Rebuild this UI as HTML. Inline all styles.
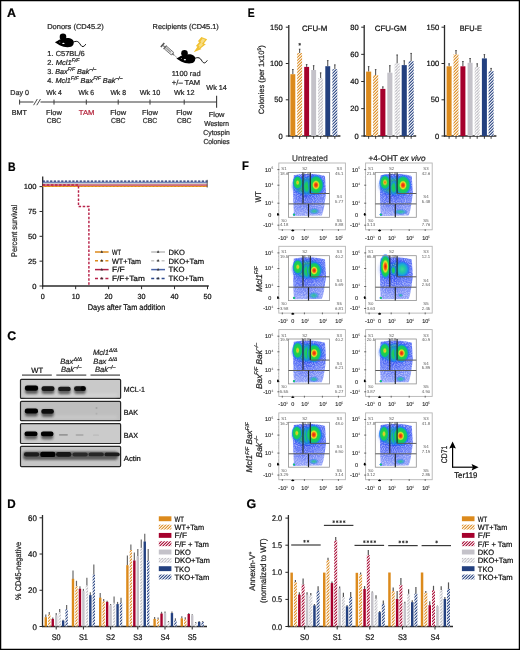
<!DOCTYPE html>
<html><head><meta charset="utf-8"><title>Figure</title>
<style>
html,body{margin:0;padding:0;background:#fff;}
body{width:520px;height:650px;overflow:hidden;}
text{stroke:#222;stroke-width:0.22px;}
text.ns{stroke:none !important;}
svg{display:block;font-family:"Liberation Sans",sans-serif;will-change:transform;text-rendering:geometricPrecision;}
</style></head>
<body>
<svg width="520" height="650" viewBox="0 0 520 650">

<defs>

 <radialGradient id="gy"><stop offset="0" stop-color="#f0a81e"/><stop offset="0.16" stop-color="#d2dc28"/><stop offset="0.36" stop-color="#1ed246"/><stop offset="0.7" stop-color="#14c46e"/><stop offset="0.84" stop-color="#1288ee" stop-opacity="0.8"/><stop offset="1" stop-color="#2040ff" stop-opacity="0"/></radialGradient>
 <radialGradient id="go"><stop offset="0" stop-color="#f04a14"/><stop offset="0.2" stop-color="#e6cc28"/><stop offset="0.42" stop-color="#1ed246"/><stop offset="0.66" stop-color="#14c46e"/><stop offset="0.84" stop-color="#1288ee" stop-opacity="0.8"/><stop offset="1" stop-color="#2040ff" stop-opacity="0"/></radialGradient>
 <radialGradient id="gr"><stop offset="0" stop-color="#ee1a0a"/><stop offset="0.18" stop-color="#f45a12"/><stop offset="0.32" stop-color="#e8e026"/><stop offset="0.46" stop-color="#1ed246"/><stop offset="0.72" stop-color="#14c46e"/><stop offset="0.86" stop-color="#1288ee" stop-opacity="0.8"/><stop offset="1" stop-color="#2040ff" stop-opacity="0"/></radialGradient>
 <radialGradient id="gR"><stop offset="0" stop-color="#e6140a"/><stop offset="0.22" stop-color="#f46412"/><stop offset="0.38" stop-color="#e8e026"/><stop offset="0.55" stop-color="#1ed246"/><stop offset="0.72" stop-color="#14c46e"/><stop offset="0.86" stop-color="#1288ee" stop-opacity="0.8"/><stop offset="1" stop-color="#2040ff" stop-opacity="0"/></radialGradient>
 <radialGradient id="gc"><stop offset="0" stop-color="#3cd69a"/><stop offset="0.35" stop-color="#22c8a0"/><stop offset="0.65" stop-color="#1aa8d8"/><stop offset="0.85" stop-color="#1878f0" stop-opacity="0.7"/><stop offset="1" stop-color="#2040ff" stop-opacity="0"/></radialGradient>
 <radialGradient id="gG"><stop offset="0" stop-color="#20d04a"/><stop offset="0.45" stop-color="#1cc474"/><stop offset="0.75" stop-color="#1490e8" stop-opacity="0.75"/><stop offset="1" stop-color="#2040ff" stop-opacity="0"/></radialGradient>
 <linearGradient id="wfade" x1="0" y1="0" x2="0" y2="1"><stop offset="0" stop-color="#fff" stop-opacity="0"/><stop offset="0.5" stop-color="#fff" stop-opacity="0.22"/><stop offset="1" stop-color="#fff" stop-opacity="0.35"/></linearGradient>
 <radialGradient id="gB"><stop offset="0" stop-color="#22cc4c" stop-opacity="0.95"/><stop offset="0.55" stop-color="#1ec464" stop-opacity="0.85"/><stop offset="0.8" stop-color="#16a0d0" stop-opacity="0.55"/><stop offset="1" stop-color="#2040ff" stop-opacity="0"/></radialGradient>
 <radialGradient id="gS"><stop offset="0" stop-color="#30c878" stop-opacity="0.9"/><stop offset="0.5" stop-color="#20a8c8" stop-opacity="0.7"/><stop offset="1" stop-color="#2040ff" stop-opacity="0"/></radialGradient>
 <pattern id="hOR" patternUnits="userSpaceOnUse" width="3" height="3">
  <rect width="3" height="3" fill="#fff"/><path d="M0,3 L3,0 L3,1.500 L1.500,3 Z M0,1.500 L1.500,0 L0,0 Z" fill="#DC8A1C"/></pattern>
 <pattern id="hORf" patternUnits="userSpaceOnUse" width="4" height="2">
  <rect width="4" height="2" fill="#fff"/><path d="M0,-2 L4,-4 L4,-3.00 L0,-1.00 Z M0,0 L4,-2 L4,-1.00 L0,1.00 Z M0,2 L4,0 L4,1.00 L0,3.00 Z M0,4 L4,2 L4,3.00 L0,5.00 Z" fill="#DC8A1C"/></pattern>
 <pattern id="hRD" patternUnits="userSpaceOnUse" width="3" height="3">
  <rect width="3" height="3" fill="#fff"/><path d="M0,3 L3,0 L3,1.500 L1.500,3 Z M0,1.500 L1.500,0 L0,0 Z" fill="#A5002C"/></pattern>
 <pattern id="hRDf" patternUnits="userSpaceOnUse" width="4" height="2">
  <rect width="4" height="2" fill="#fff"/><path d="M0,-2 L4,-4 L4,-3.00 L0,-1.00 Z M0,0 L4,-2 L4,-1.00 L0,1.00 Z M0,2 L4,0 L4,1.00 L0,3.00 Z M0,4 L4,2 L4,3.00 L0,5.00 Z" fill="#A5002C"/></pattern>
 <pattern id="hGY" patternUnits="userSpaceOnUse" width="3" height="3">
  <rect width="3" height="3" fill="#fff"/><path d="M0,3 L3,0 L3,1.350 L1.350,3 Z M0,1.650 L1.650,0 L0,0 Z" fill="#BDBCC2"/></pattern>
 <pattern id="hGYf" patternUnits="userSpaceOnUse" width="4" height="2">
  <rect width="4" height="2" fill="#fff"/><path d="M0,-2 L4,-4 L4,-3.10 L0,-1.10 Z M0,0 L4,-2 L4,-1.10 L0,0.90 Z M0,2 L4,0 L4,0.90 L0,2.90 Z M0,4 L4,2 L4,2.90 L0,4.90 Z" fill="#BDBCC2"/></pattern>
 <pattern id="hBL" patternUnits="userSpaceOnUse" width="3" height="3">
  <rect width="3" height="3" fill="#fff"/><path d="M0,3 L3,0 L3,1.500 L1.500,3 Z M0,1.500 L1.500,0 L0,0 Z" fill="#23407F"/></pattern>
 <pattern id="hBLf" patternUnits="userSpaceOnUse" width="4" height="2">
  <rect width="4" height="2" fill="#fff"/><path d="M0,-2 L4,-4 L4,-3.00 L0,-1.00 Z M0,0 L4,-2 L4,-1.00 L0,1.00 Z M0,2 L4,0 L4,1.00 L0,3.00 Z M0,4 L4,2 L4,3.00 L0,5.00 Z" fill="#23407F"/></pattern>
 <filter id="blur1" x="-50%" y="-50%" width="200%" height="200%"><feGaussianBlur stdDeviation="1"/></filter>
 <filter id="blur07" x="-50%" y="-50%" width="200%" height="200%"><feGaussianBlur stdDeviation="0.7"/></filter>
 <filter id="blur15" x="-50%" y="-50%" width="200%" height="200%"><feGaussianBlur stdDeviation="1.5"/></filter>
 <filter id="blur2" x="-50%" y="-50%" width="200%" height="200%"><feGaussianBlur stdDeviation="2"/></filter>
 <filter id="blur3" x="-50%" y="-50%" width="200%" height="200%"><feGaussianBlur stdDeviation="3"/></filter>
 <filter id="speck" x="0" y="0" width="100%" height="100%">
   <feTurbulence type="fractalNoise" baseFrequency="0.9" numOctaves="1" seed="3" result="n"/>
   <feColorMatrix in="n" type="matrix" values="0 0 0 0 1  0 0 0 0 1  0 0 0 0 1  0 0 0 -2.2 1.35" result="m"/>
   <feComposite in="m" in2="SourceGraphic" operator="in"/>
 </filter>
</defs>

<rect x="0" y="0" width="520" height="650" fill="#fff"/>
<text x="7.0" y="16.9" font-size="12.4" fill="#000" style="stroke:#000" font-weight="bold">A</text>
<text x="7.9" y="170.9" font-size="12.4" fill="#000" style="stroke:#000" textLength="7.6" lengthAdjust="spacingAndGlyphs" font-weight="bold">B</text>
<text x="7.3" y="340.1" font-size="12.4" fill="#000" style="stroke:#000" font-weight="bold">C</text>
<text x="7.3" y="507.6" font-size="12.4" fill="#000" style="stroke:#000" textLength="8.4" lengthAdjust="spacingAndGlyphs" font-weight="bold">D</text>
<text x="247.7" y="16.9" font-size="12.4" fill="#000" style="stroke:#000" textLength="6.9" lengthAdjust="spacingAndGlyphs" font-weight="bold">E</text>
<text x="242.0" y="169.7" font-size="12.4" fill="#000" style="stroke:#000" textLength="6.8" lengthAdjust="spacingAndGlyphs" font-weight="bold">F</text>
<text x="246.4" y="507.6" font-size="12.4" fill="#000" style="stroke:#000" font-weight="bold">G</text>
<text x="47.2" y="28.9" font-size="7.2" fill="#262626" style="stroke:#262626" textLength="56.6" lengthAdjust="spacingAndGlyphs">Donors (CD45.2)</text>
<text x="152.6" y="28.9" font-size="7.2" fill="#262626" style="stroke:#262626" textLength="66.2" lengthAdjust="spacingAndGlyphs">Recipients (CD45.1)</text>
<g><path d="M54.9,42.3 C56.8,41.2 58.6,39.9 60.6,39.2 C61.2,38.9 62,38.7 62.8,38.6 C66.5,37.6 71.2,37.7 73.1,40.2 C74.3,42 74,45.6 71,46.7 C67.8,47.7 63.2,47.1 59.6,45.2 Z" fill="#000"/><circle cx="63" cy="36.9" r="3.3" fill="#000"/><path d="M73.2,42.1 C75.6,41.1 77.4,41 78.8,42.4 C80.4,44.1 81.3,46.9 83,46.6 C84.3,46.3 85,45.2 85.8,44.1" fill="none" stroke="#000" stroke-width="0.95"/><ellipse cx="63.4" cy="43.4" rx="1.15" ry="0.65" fill="#fff"/><ellipse cx="59.8" cy="42.1" rx="0.5" ry="0.4" fill="#fff"/></g>
<g transform="translate(176.4,58.6) scale(1.0) translate(-54.9,-42.3)"><path d="M54.9,42.3 C56.8,41.2 58.6,39.9 60.6,39.2 C61.2,38.9 62,38.7 62.8,38.6 C66.5,37.6 71.2,37.7 73.1,40.2 C74.3,42 74,45.6 71,46.7 C67.8,47.7 63.2,47.1 59.6,45.2 Z" fill="#000"/><circle cx="63" cy="36.9" r="3.3" fill="#000"/><path d="M73.2,42.1 C75.6,41.1 77.4,41 78.8,42.4 C80.4,44.1 81.3,46.9 83,46.6 C84.3,46.3 85,45.2 85.8,44.1" fill="none" stroke="#000" stroke-width="0.95"/><ellipse cx="63.4" cy="43.4" rx="1.15" ry="0.65" fill="#fff"/><ellipse cx="59.8" cy="42.1" rx="0.5" ry="0.4" fill="#fff"/></g>
<g transform="translate(162.4,44.9) rotate(41)"><rect x="-0.6" y="-2.6" width="1.6" height="5.2" fill="#555"/><rect x="1" y="-0.6" width="2.2" height="1.2" fill="#777"/><rect x="3.0" y="-2.3" width="1.2" height="4.6" fill="#555"/><rect x="4.2" y="-1.75" width="9.2" height="3.5" fill="#e6e6e6" stroke="#666" stroke-width="0.8"/><rect x="5.2" y="-0.7" width="6" height="1.4" fill="#9a9a9a"/><path d="M13.4,-1.2 L15.4,-0.5 L15.4,0.5 L13.4,1.2 Z" fill="#777"/><line x1="15.4" y1="0" x2="19.4" y2="0" stroke="#888" stroke-width="0.6"/></g>
<path d="M201.4,37.1 L207.2,39.3 L203.8,43.5 L205.8,44.3 L200.4,48.6 L201.6,49.1 L193.7,52.2 L197.4,46.7 L195.9,46.1 L199.3,41.9 L197.8,41.3 Z" fill="#F1C232"/>
<path d="M202.6,38.6 L205.2,39.7 L201.8,44 L203.4,44.6 L198.6,48.4 L199.6,46.3 L198.4,45.8 L201.4,42 L200.4,41.6 Z" fill="#F7DD85"/>
<text x="47.3" y="55.6" font-size="7.2" fill="#262626" style="stroke:#262626" textLength="37.5" lengthAdjust="spacingAndGlyphs">1. C57BL/6</text>
<text x="47.3" y="64.6" font-size="7.2" fill="#262626" textLength="32.2" lengthAdjust="spacingAndGlyphs">2. <tspan font-style="italic">Mcl1</tspan><tspan font-size="5.0" dy="-2.9" font-style="italic">F/F</tspan></text>
<text x="47.3" y="73.6" font-size="7.2" fill="#262626" textLength="49" lengthAdjust="spacingAndGlyphs">3. <tspan font-style="italic">Bax</tspan><tspan font-size="5.0" dy="-2.9" font-style="italic">F/F</tspan><tspan dy="2.9" font-style="italic"> Bak</tspan><tspan font-size="5.0" dy="-2.9" font-style="italic">–/–</tspan></text>
<text x="47.3" y="82.6" font-size="7.2" fill="#262626" textLength="75.2" lengthAdjust="spacingAndGlyphs">4. <tspan font-style="italic">Mcl1</tspan><tspan font-size="5.0" dy="-2.9" font-style="italic">F/F</tspan><tspan dy="2.9" font-style="italic"> Bax</tspan><tspan font-size="5.0" dy="-2.9" font-style="italic">F/F</tspan><tspan dy="2.9" font-style="italic"> Bak</tspan><tspan font-size="5.0" dy="-2.9" font-style="italic">–/–</tspan></text>
<text x="186.2" y="76.3" font-size="7.2" text-anchor="middle" fill="#262626" style="stroke:#262626" textLength="29" lengthAdjust="spacingAndGlyphs">1100 rad</text>
<text x="186.0" y="85.2" font-size="7.2" text-anchor="middle" fill="#262626" style="stroke:#262626" textLength="28.4" lengthAdjust="spacingAndGlyphs">+/– TAM</text>
<line x1="19.50" y1="102.00" x2="216.60" y2="102.00" stroke="#3a3a3a" stroke-width="1.2" />
<rect x="33.5" y="99" width="7" height="6" fill="#fff"/>
<line x1="33.60" y1="105.20" x2="37.30" y2="99.00" stroke="#3a3a3a" stroke-width="0.9" />
<line x1="36.80" y1="105.20" x2="40.50" y2="99.00" stroke="#3a3a3a" stroke-width="0.9" />
<line x1="19.60" y1="99.60" x2="19.60" y2="104.60" stroke="#3a3a3a" stroke-width="1.0" />
<line x1="54.00" y1="99.60" x2="54.00" y2="104.60" stroke="#3a3a3a" stroke-width="1.0" />
<line x1="86.30" y1="99.60" x2="86.30" y2="104.60" stroke="#3a3a3a" stroke-width="1.0" />
<line x1="118.20" y1="99.60" x2="118.20" y2="104.60" stroke="#3a3a3a" stroke-width="1.0" />
<line x1="150.00" y1="99.60" x2="150.00" y2="104.60" stroke="#3a3a3a" stroke-width="1.0" />
<line x1="184.20" y1="99.60" x2="184.20" y2="104.60" stroke="#3a3a3a" stroke-width="1.0" />
<line x1="216.60" y1="95.80" x2="216.60" y2="107.80" stroke="#3a3a3a" stroke-width="1.1" />
<text x="19.6" y="94.8" font-size="7.2" text-anchor="middle" fill="#262626" style="stroke:#262626" textLength="18.7" lengthAdjust="spacingAndGlyphs">Day 0</text>
<text x="54.0" y="94.8" font-size="7.2" text-anchor="middle" fill="#262626" style="stroke:#262626" textLength="15.6" lengthAdjust="spacingAndGlyphs">Wk 4</text>
<text x="86.3" y="94.8" font-size="7.2" text-anchor="middle" fill="#262626" style="stroke:#262626" textLength="15.6" lengthAdjust="spacingAndGlyphs">Wk 6</text>
<text x="118.2" y="94.8" font-size="7.2" text-anchor="middle" fill="#262626" style="stroke:#262626" textLength="15.6" lengthAdjust="spacingAndGlyphs">Wk 8</text>
<text x="150.0" y="94.8" font-size="7.2" text-anchor="middle" fill="#262626" style="stroke:#262626" textLength="20.6" lengthAdjust="spacingAndGlyphs">Wk 10</text>
<text x="184.2" y="94.8" font-size="7.2" text-anchor="middle" fill="#262626" style="stroke:#262626" textLength="20.6" lengthAdjust="spacingAndGlyphs">Wk 12</text>
<text x="216.6" y="90.4" font-size="7.2" text-anchor="middle" fill="#262626" style="stroke:#262626" textLength="20.6" lengthAdjust="spacingAndGlyphs">Wk 14</text>
<text x="19.4" y="114.7" font-size="7.2" text-anchor="middle" fill="#262626" style="stroke:#262626" textLength="15.2" lengthAdjust="spacingAndGlyphs">BMT</text>
<text x="54.0" y="114.7" font-size="7.2" text-anchor="middle" fill="#262626" style="stroke:#262626" textLength="15.8" lengthAdjust="spacingAndGlyphs">Flow</text>
<text x="54.0" y="123.4" font-size="7.2" text-anchor="middle" fill="#262626" style="stroke:#262626" textLength="14.5" lengthAdjust="spacingAndGlyphs">CBC</text>
<text x="86.6" y="114.7" font-size="7.2" text-anchor="middle" fill="#B5283F" style="stroke:#B5283F" textLength="15.6" lengthAdjust="spacingAndGlyphs">TAM</text>
<text x="118.2" y="114.7" font-size="7.2" text-anchor="middle" fill="#262626" style="stroke:#262626" textLength="15.8" lengthAdjust="spacingAndGlyphs">Flow</text>
<text x="118.2" y="123.4" font-size="7.2" text-anchor="middle" fill="#262626" style="stroke:#262626" textLength="14.5" lengthAdjust="spacingAndGlyphs">CBC</text>
<text x="150.0" y="114.7" font-size="7.2" text-anchor="middle" fill="#262626" style="stroke:#262626" textLength="15.8" lengthAdjust="spacingAndGlyphs">Flow</text>
<text x="150.0" y="123.4" font-size="7.2" text-anchor="middle" fill="#262626" style="stroke:#262626" textLength="14.5" lengthAdjust="spacingAndGlyphs">CBC</text>
<text x="184.2" y="114.7" font-size="7.2" text-anchor="middle" fill="#262626" style="stroke:#262626" textLength="15.8" lengthAdjust="spacingAndGlyphs">Flow</text>
<text x="184.2" y="123.4" font-size="7.2" text-anchor="middle" fill="#262626" style="stroke:#262626" textLength="14.5" lengthAdjust="spacingAndGlyphs">CBC</text>
<text x="216.6" y="117.2" font-size="7.2" text-anchor="middle" fill="#262626" style="stroke:#262626" textLength="15.8" lengthAdjust="spacingAndGlyphs">Flow</text>
<text x="216.6" y="126.0" font-size="7.2" text-anchor="middle" fill="#262626" style="stroke:#262626" textLength="24.8" lengthAdjust="spacingAndGlyphs">Western</text>
<text x="216.6" y="134.7" font-size="7.2" text-anchor="middle" fill="#262626" style="stroke:#262626" textLength="26.5" lengthAdjust="spacingAndGlyphs">Cytospin</text>
<text x="216.6" y="143.5" font-size="7.2" text-anchor="middle" fill="#262626" style="stroke:#262626" textLength="26.3" lengthAdjust="spacingAndGlyphs">Colonies</text>
<line x1="42.70" y1="176.40" x2="42.70" y2="286.60" stroke="#2a2a2a" stroke-width="1.3" />
<line x1="42.10" y1="286.00" x2="208.80" y2="286.00" stroke="#2a2a2a" stroke-width="1.3" />
<line x1="39.50" y1="286.00" x2="42.70" y2="286.00" stroke="#2a2a2a" stroke-width="1.0" />
<text x="36.6" y="288.6" font-size="7.4" text-anchor="end" textLength="4.25" lengthAdjust="spacingAndGlyphs">0</text>
<line x1="39.50" y1="261.16" x2="42.70" y2="261.16" stroke="#2a2a2a" stroke-width="1.0" />
<text x="36.6" y="263.76000000000005" font-size="7.4" text-anchor="end" textLength="8.5" lengthAdjust="spacingAndGlyphs">25</text>
<line x1="39.50" y1="236.32" x2="42.70" y2="236.32" stroke="#2a2a2a" stroke-width="1.0" />
<text x="36.6" y="238.92" font-size="7.4" text-anchor="end" textLength="8.5" lengthAdjust="spacingAndGlyphs">50</text>
<line x1="39.50" y1="211.48" x2="42.70" y2="211.48" stroke="#2a2a2a" stroke-width="1.0" />
<text x="36.6" y="214.08" font-size="7.4" text-anchor="end" textLength="8.5" lengthAdjust="spacingAndGlyphs">75</text>
<line x1="39.50" y1="186.64" x2="42.70" y2="186.64" stroke="#2a2a2a" stroke-width="1.0" />
<text x="36.6" y="189.23999999999998" font-size="7.4" text-anchor="end" textLength="12.75" lengthAdjust="spacingAndGlyphs">100</text>
<line x1="42.70" y1="286.00" x2="42.70" y2="289.20" stroke="#2a2a2a" stroke-width="1.0" />
<text x="42.7" y="298.8" font-size="7.4" text-anchor="middle" textLength="4.0" lengthAdjust="spacingAndGlyphs">0</text>
<line x1="75.66" y1="286.00" x2="75.66" y2="289.20" stroke="#2a2a2a" stroke-width="1.0" />
<text x="75.66" y="298.8" font-size="7.4" text-anchor="middle" textLength="8.0" lengthAdjust="spacingAndGlyphs">10</text>
<line x1="108.62" y1="286.00" x2="108.62" y2="289.20" stroke="#2a2a2a" stroke-width="1.0" />
<text x="108.62" y="298.8" font-size="7.4" text-anchor="middle" textLength="8.0" lengthAdjust="spacingAndGlyphs">20</text>
<line x1="141.58" y1="286.00" x2="141.58" y2="289.20" stroke="#2a2a2a" stroke-width="1.0" />
<text x="141.57999999999998" y="298.8" font-size="7.4" text-anchor="middle" textLength="8.0" lengthAdjust="spacingAndGlyphs">30</text>
<line x1="174.54" y1="286.00" x2="174.54" y2="289.20" stroke="#2a2a2a" stroke-width="1.0" />
<text x="174.54000000000002" y="298.8" font-size="7.4" text-anchor="middle" textLength="8.0" lengthAdjust="spacingAndGlyphs">40</text>
<line x1="207.50" y1="286.00" x2="207.50" y2="289.20" stroke="#2a2a2a" stroke-width="1.0" />
<text x="207.5" y="298.8" font-size="7.4" text-anchor="middle" textLength="8.0" lengthAdjust="spacingAndGlyphs">50</text>
<text x="126.5" y="310.1" font-size="8.2" text-anchor="middle" textLength="77.5" lengthAdjust="spacingAndGlyphs">Days after Tam addition</text>
<text transform="translate(17.2,230.9) rotate(-90)" x="0" y="0" font-size="8.2" text-anchor="middle" fill="#222" textLength="52" lengthAdjust="spacingAndGlyphs">Percent survival</text>
<line x1="42.70" y1="186.40" x2="207.50" y2="186.40" stroke="#DC8A1C" stroke-width="1.2" />
<line x1="42.70" y1="186.40" x2="207.50" y2="186.40" stroke="#F0A030" stroke-width="1.0" stroke-dasharray="2,1.6"/>
<line x1="42.70" y1="185.00" x2="207.50" y2="185.00" stroke="#A5002C" stroke-width="1.2" />
<line x1="42.70" y1="183.30" x2="207.50" y2="183.30" stroke="#BDBDBD" stroke-width="1.1" />
<line x1="42.70" y1="182.30" x2="207.50" y2="182.30" stroke="#4A64A8" stroke-width="1.1" />
<line x1="42.70" y1="181.20" x2="207.50" y2="181.20" stroke="#1C2F6E" stroke-width="1.3" stroke-dasharray="2.2,1.5"/>
<path d="M42.7,185.0 L78.5,185.0 L78.5,206.5 L88.9,206.5 L88.9,286.0" fill="none" stroke="#B8234A" stroke-width="1.45" stroke-dasharray="2.5,1.6"/>
<line x1="207.20" y1="179.80" x2="207.20" y2="187.60" stroke="#444" stroke-width="0.8" />
<line x1="95.00" y1="252.00" x2="108.60" y2="252.00" stroke="#DC8A1C" stroke-width="1.5" />
<path d="M100.50,252.80 L103.10,252.80 L101.80,250.30 Z" fill="#333"/>
<text x="112.0" y="254.7" font-size="7.6" textLength="9.0" lengthAdjust="spacingAndGlyphs">WT</text>
<line x1="95.00" y1="260.80" x2="108.60" y2="260.80" stroke="#DC8A1C" stroke-width="1.5" stroke-dasharray="3.0,2.2"/>
<path d="M100.50,261.60 L103.10,261.60 L101.80,259.10 Z" fill="#333"/>
<text x="112.0" y="263.5" font-size="7.6" textLength="29.0" lengthAdjust="spacingAndGlyphs">WT+Tam</text>
<line x1="95.00" y1="269.60" x2="108.60" y2="269.60" stroke="#B01E44" stroke-width="1.5" />
<path d="M100.50,270.40 L103.10,270.40 L101.80,267.90 Z" fill="#333"/>
<text x="112.0" y="272.3" font-size="7.6" textLength="12.8" lengthAdjust="spacingAndGlyphs">F/F</text>
<line x1="95.00" y1="278.40" x2="108.60" y2="278.40" stroke="#B8234A" stroke-width="1.5" stroke-dasharray="3.0,2.2"/>
<path d="M100.50,279.20 L103.10,279.20 L101.80,276.70 Z" fill="#333"/>
<text x="112.0" y="281.09999999999997" font-size="7.6" textLength="32.8" lengthAdjust="spacingAndGlyphs">F/F+Tam</text>
<line x1="151.20" y1="252.00" x2="165.00" y2="252.00" stroke="#BDBDBD" stroke-width="1.5" />
<path d="M156.80,252.80 L159.40,252.80 L158.10,250.30 Z" fill="#333"/>
<text x="168.6" y="254.7" font-size="7.6" textLength="16.4" lengthAdjust="spacingAndGlyphs">DKO</text>
<line x1="151.20" y1="260.80" x2="165.00" y2="260.80" stroke="#C6C6C6" stroke-width="1.5" stroke-dasharray="3.0,2.2"/>
<path d="M156.80,261.60 L159.40,261.60 L158.10,259.10 Z" fill="#333"/>
<text x="168.6" y="263.5" font-size="7.6" textLength="35.4" lengthAdjust="spacingAndGlyphs">DKO+Tam</text>
<line x1="151.20" y1="269.60" x2="165.00" y2="269.60" stroke="#4A64A8" stroke-width="1.5" />
<path d="M156.80,270.40 L159.40,270.40 L158.10,267.90 Z" fill="#333"/>
<text x="168.6" y="272.3" font-size="7.6" textLength="16.0" lengthAdjust="spacingAndGlyphs">TKO</text>
<line x1="151.20" y1="278.40" x2="165.00" y2="278.40" stroke="#2E4A8C" stroke-width="1.5" stroke-dasharray="3.0,2.2"/>
<path d="M156.80,279.20 L159.40,279.20 L158.10,276.70 Z" fill="#333"/>
<text x="168.6" y="281.09999999999997" font-size="7.6" textLength="35.0" lengthAdjust="spacingAndGlyphs">TKO+Tam</text>
<text x="37.2" y="372.6" font-size="7.6" text-anchor="middle" textLength="11.8" lengthAdjust="spacingAndGlyphs">WT</text>
<text x="71.2" y="364.0" font-size="7.6" text-anchor="middle" fill="#222" font-style="italic">Bax<tspan font-size="5.4" dy="-3.0">Δ/Δ</tspan></text>
<text x="71.2" y="372.4" font-size="7.6" text-anchor="middle" fill="#222" font-style="italic">Bak<tspan font-size="5.4" dy="-3.0">–/–</tspan></text>
<text x="105.3" y="355.0" font-size="7.6" text-anchor="middle" fill="#222" font-style="italic">Mcl1<tspan font-size="5.4" dy="-3.0">Δ/Δ</tspan></text>
<text x="105.3" y="364.0" font-size="7.6" text-anchor="middle" fill="#222" font-style="italic">Bax <tspan font-size="5.4" dy="-3.0">Δ/Δ</tspan></text>
<text x="105.3" y="372.4" font-size="7.6" text-anchor="middle" fill="#222" font-style="italic">Bak<tspan font-size="5.4" dy="-3.0">–/–</tspan></text>
<line x1="22.00" y1="375.10" x2="51.80" y2="375.10" stroke="#555" stroke-width="1.3" />
<line x1="56.30" y1="375.10" x2="86.30" y2="375.10" stroke="#555" stroke-width="1.3" />
<line x1="90.50" y1="375.10" x2="120.00" y2="375.10" stroke="#555" stroke-width="1.3" />
<rect x="20.5" y="379.3" width="100.1" height="19.099999999999966" rx="1" fill="#C9C9C9" stroke="#262626" stroke-width="1.2"/>
<text x="123.8" y="391.8" font-size="7.4" textLength="21.2" lengthAdjust="spacingAndGlyphs">MCL-1</text>
<rect x="20.5" y="401.4" width="100.1" height="19.30000000000001" rx="1" fill="#BEBEBE" stroke="#262626" stroke-width="1.2"/>
<text x="123.8" y="414.6" font-size="7.4" textLength="14.3" lengthAdjust="spacingAndGlyphs">BAK</text>
<rect x="20.5" y="423.6" width="100.1" height="19.899999999999977" rx="1" fill="#CBCBCB" stroke="#262626" stroke-width="1.2"/>
<text x="123.8" y="437.5" font-size="7.4" textLength="14.3" lengthAdjust="spacingAndGlyphs">BAX</text>
<rect x="20.5" y="446.3" width="100.1" height="20.30000000000001" rx="1" fill="#C6C6C6" stroke="#262626" stroke-width="1.2"/>
<text x="123.8" y="461.0" font-size="7.4" textLength="17.1" lengthAdjust="spacingAndGlyphs">Actin</text>
<g filter="url(#blur15)">
<rect x="24" y="394" width="93" height="2.5" fill="#d6d6d6"/>
<rect x="24" y="416" width="93" height="2.5" fill="#cbcbcb"/>
</g>
<rect x="25.10" y="386.20" width="12.80" height="7.80" rx="2.6" fill="#333" fill-opacity="0.70" filter="url(#blur1)"/>
<rect x="24.90" y="385.60" width="13.20" height="5.20" rx="2.20" fill="#050505" fill-opacity="1.0" filter="url(#blur07)"/>
<rect x="41.70" y="386.90" width="12.60" height="7.20" rx="2.6" fill="#333" fill-opacity="0.70" filter="url(#blur1)"/>
<rect x="41.50" y="386.30" width="13.00" height="4.60" rx="2.20" fill="#141414" fill-opacity="1.0" filter="url(#blur07)"/>
<rect x="58.30" y="387.30" width="12.20" height="7.00" rx="2.6" fill="#333" fill-opacity="0.70" filter="url(#blur1)"/>
<rect x="58.10" y="386.70" width="12.60" height="4.40" rx="2.20" fill="#1a1a1a" fill-opacity="1.0" filter="url(#blur07)"/>
<rect x="74.30" y="386.90" width="11.40" height="7.20" rx="2.6" fill="#333" fill-opacity="0.70" filter="url(#blur1)"/>
<rect x="74.10" y="386.30" width="11.80" height="4.60" rx="2.20" fill="#141414" fill-opacity="1.0" filter="url(#blur07)"/>
<rect x="80.50" y="386.30" width="5.00" height="4.40" rx="2.20" fill="#000" fill-opacity="1.0" filter="url(#blur07)"/>
<rect x="25.00" y="409.20" width="12.80" height="7.40" rx="2.6" fill="#333" fill-opacity="0.70" filter="url(#blur1)"/>
<rect x="24.80" y="408.60" width="13.20" height="4.80" rx="2.20" fill="#050505" fill-opacity="1.0" filter="url(#blur07)"/>
<rect x="41.50" y="409.70" width="12.20" height="7.20" rx="2.6" fill="#333" fill-opacity="0.70" filter="url(#blur1)"/>
<rect x="41.30" y="409.10" width="12.60" height="4.60" rx="2.20" fill="#0e0e0e" fill-opacity="1.0" filter="url(#blur07)"/>
<rect x="95.50" y="407.00" width="2.00" height="2.00" rx="1.00" fill="#888" fill-opacity="0.5" filter="url(#blur07)"/>
<rect x="95.50" y="412.80" width="2.00" height="2.00" rx="1.00" fill="#999" fill-opacity="0.4" filter="url(#blur07)"/>
<rect x="24.70" y="432.10" width="12.60" height="7.20" rx="2.6" fill="#333" fill-opacity="0.70" filter="url(#blur1)"/>
<rect x="24.50" y="431.50" width="13.00" height="4.60" rx="2.20" fill="#040404" fill-opacity="1.0" filter="url(#blur07)"/>
<rect x="41.10" y="432.20" width="12.20" height="7.20" rx="2.6" fill="#333" fill-opacity="0.70" filter="url(#blur1)"/>
<rect x="40.90" y="431.60" width="12.60" height="4.60" rx="2.20" fill="#060606" fill-opacity="1.0" filter="url(#blur07)"/>
<rect x="58.90" y="434.10" width="9.00" height="1.60" rx="0.80" fill="#808080" fill-opacity="0.7" filter="url(#blur07)"/>
<rect x="75.60" y="434.30" width="8.00" height="1.40" rx="0.70" fill="#8c8c8c" fill-opacity="0.6" filter="url(#blur07)"/>
<rect x="93.00" y="434.60" width="6.00" height="1.20" rx="0.60" fill="#aaa" fill-opacity="0.5" filter="url(#blur07)"/>
<rect x="23" y="451.6" width="95" height="8.4" rx="3" fill="#3a3a3a" fill-opacity="0.75" filter="url(#blur1)"/>
<rect x="24.00" y="452.30" width="15.20" height="4.20" rx="2.10" fill="#1a1a1a" fill-opacity="1.0" filter="url(#blur07)"/>
<rect x="40.20" y="451.70" width="15.20" height="5.40" rx="2.20" fill="#030303" fill-opacity="1.0" filter="url(#blur07)"/>
<rect x="56.10" y="452.10" width="15.20" height="4.60" rx="2.20" fill="#141414" fill-opacity="1.0" filter="url(#blur07)"/>
<rect x="72.50" y="452.40" width="15.20" height="4.00" rx="2.00" fill="#2a2a2a" fill-opacity="1.0" filter="url(#blur07)"/>
<rect x="88.60" y="452.50" width="15.20" height="3.80" rx="1.90" fill="#262626" fill-opacity="1.0" filter="url(#blur07)"/>
<rect x="104.60" y="452.50" width="15.20" height="3.80" rx="1.90" fill="#1e1e1e" fill-opacity="1.0" filter="url(#blur07)"/>
<line x1="42.50" y1="515.00" x2="42.50" y2="627.10" stroke="#2a2a2a" stroke-width="1.3" />
<line x1="41.90" y1="626.50" x2="207.00" y2="626.50" stroke="#2a2a2a" stroke-width="1.3" />
<line x1="39.50" y1="626.50" x2="42.50" y2="626.50" stroke="#2a2a2a" stroke-width="1.0" />
<text x="36.9" y="629.5" font-size="8.2" text-anchor="end" textLength="4.4" lengthAdjust="spacingAndGlyphs">0</text>
<line x1="39.50" y1="590.27" x2="42.50" y2="590.27" stroke="#2a2a2a" stroke-width="1.0" />
<text x="36.9" y="593.266" font-size="8.2" text-anchor="end" textLength="8.8" lengthAdjust="spacingAndGlyphs">20</text>
<line x1="39.50" y1="554.03" x2="42.50" y2="554.03" stroke="#2a2a2a" stroke-width="1.0" />
<text x="36.9" y="557.032" font-size="8.2" text-anchor="end" textLength="8.8" lengthAdjust="spacingAndGlyphs">40</text>
<line x1="39.50" y1="517.80" x2="42.50" y2="517.80" stroke="#2a2a2a" stroke-width="1.0" />
<text x="36.9" y="520.798" font-size="8.2" text-anchor="end" textLength="8.8" lengthAdjust="spacingAndGlyphs">60</text>
<text transform="translate(21.4,571) rotate(-90)" font-size="8.2" text-anchor="middle" fill="#222" textLength="58" lengthAdjust="spacingAndGlyphs">% CD45-negative</text>
<line x1="45.80" y1="617.50" x2="45.80" y2="614.60" stroke="#6a6a6a" stroke-width="1.2" />
<rect x="44.60" y="617.20" width="2.40" height="9.30" fill="#DC8A1C" />
<line x1="49.27" y1="614.90" x2="49.27" y2="612.00" stroke="#6a6a6a" stroke-width="1.2" />
<rect x="48.07" y="614.60" width="2.40" height="11.90" fill="url(#hOR)" />
<line x1="52.74" y1="619.20" x2="52.74" y2="617.40" stroke="#6a6a6a" stroke-width="1.2" />
<rect x="51.54" y="618.90" width="2.40" height="7.60" fill="#A5002C" />
<line x1="56.21" y1="615.70" x2="56.21" y2="613.00" stroke="#6a6a6a" stroke-width="1.2" />
<rect x="55.01" y="615.40" width="2.40" height="11.10" fill="#C4C2C9" />
<line x1="59.68" y1="612.60" x2="59.68" y2="609.00" stroke="#6a6a6a" stroke-width="1.2" />
<rect x="58.48" y="612.30" width="2.40" height="14.20" fill="url(#hGY)" />
<line x1="63.15" y1="620.80" x2="63.15" y2="619.70" stroke="#6a6a6a" stroke-width="1.2" />
<rect x="61.95" y="620.50" width="2.40" height="6.00" fill="#23407F" />
<line x1="66.62" y1="609.50" x2="66.62" y2="605.00" stroke="#6a6a6a" stroke-width="1.2" />
<rect x="65.42" y="609.20" width="2.40" height="17.30" fill="url(#hBL)" />
<line x1="56.21" y1="626.50" x2="56.21" y2="629.50" stroke="#2a2a2a" stroke-width="1.0" />
<text x="56.21000000000001" y="640.0" font-size="8.2" text-anchor="middle" textLength="9.0" lengthAdjust="spacingAndGlyphs">S0</text>
<line x1="73.00" y1="579.10" x2="73.00" y2="570.50" stroke="#6a6a6a" stroke-width="1.2" />
<rect x="71.80" y="578.80" width="2.40" height="47.70" fill="#DC8A1C" />
<line x1="76.47" y1="586.50" x2="76.47" y2="580.80" stroke="#6a6a6a" stroke-width="1.2" />
<rect x="75.27" y="586.20" width="2.40" height="40.30" fill="url(#hOR)" />
<line x1="79.94" y1="589.10" x2="79.94" y2="586.20" stroke="#6a6a6a" stroke-width="1.2" />
<rect x="78.74" y="588.80" width="2.40" height="37.70" fill="#A5002C" />
<line x1="83.41" y1="591.10" x2="83.41" y2="588.90" stroke="#6a6a6a" stroke-width="1.2" />
<rect x="82.21" y="590.80" width="2.40" height="35.70" fill="#C4C2C9" />
<line x1="86.88" y1="585.70" x2="86.88" y2="577.70" stroke="#6a6a6a" stroke-width="1.2" />
<rect x="85.68" y="585.40" width="2.40" height="41.10" fill="url(#hGY)" />
<line x1="90.35" y1="595.40" x2="90.35" y2="592.30" stroke="#6a6a6a" stroke-width="1.2" />
<rect x="89.15" y="595.10" width="2.40" height="31.40" fill="#23407F" />
<line x1="93.82" y1="574.90" x2="93.82" y2="564.60" stroke="#6a6a6a" stroke-width="1.2" />
<rect x="92.62" y="574.60" width="2.40" height="51.90" fill="url(#hBL)" />
<line x1="83.41" y1="626.50" x2="83.41" y2="629.50" stroke="#2a2a2a" stroke-width="1.0" />
<text x="83.41" y="640.0" font-size="8.2" text-anchor="middle" textLength="9.0" lengthAdjust="spacingAndGlyphs">S1</text>
<line x1="100.20" y1="598.00" x2="100.20" y2="593.10" stroke="#6a6a6a" stroke-width="1.2" />
<rect x="99.00" y="597.70" width="2.40" height="28.80" fill="#DC8A1C" />
<line x1="103.67" y1="601.70" x2="103.67" y2="599.00" stroke="#6a6a6a" stroke-width="1.2" />
<rect x="102.47" y="601.40" width="2.40" height="25.10" fill="url(#hOR)" />
<line x1="107.14" y1="602.20" x2="107.14" y2="600.70" stroke="#6a6a6a" stroke-width="1.2" />
<rect x="105.94" y="601.90" width="2.40" height="24.60" fill="#A5002C" />
<line x1="110.61" y1="605.60" x2="110.61" y2="604.10" stroke="#6a6a6a" stroke-width="1.2" />
<rect x="109.41" y="605.30" width="2.40" height="21.20" fill="#C4C2C9" />
<line x1="114.08" y1="603.10" x2="114.08" y2="596.50" stroke="#6a6a6a" stroke-width="1.2" />
<rect x="112.88" y="602.80" width="2.40" height="23.70" fill="url(#hGY)" />
<line x1="117.55" y1="604.40" x2="117.55" y2="601.90" stroke="#6a6a6a" stroke-width="1.2" />
<rect x="116.35" y="604.10" width="2.40" height="22.40" fill="#23407F" />
<line x1="121.02" y1="603.10" x2="121.02" y2="597.70" stroke="#6a6a6a" stroke-width="1.2" />
<rect x="119.82" y="602.80" width="2.40" height="23.70" fill="url(#hBL)" />
<line x1="110.61" y1="626.50" x2="110.61" y2="629.50" stroke="#2a2a2a" stroke-width="1.0" />
<text x="110.61" y="640.0" font-size="8.2" text-anchor="middle" textLength="9.0" lengthAdjust="spacingAndGlyphs">S2</text>
<line x1="127.40" y1="565.50" x2="127.40" y2="555.40" stroke="#6a6a6a" stroke-width="1.2" />
<rect x="126.20" y="565.20" width="2.40" height="61.30" fill="#DC8A1C" />
<line x1="130.87" y1="550.30" x2="130.87" y2="544.40" stroke="#6a6a6a" stroke-width="1.2" />
<rect x="129.67" y="550.00" width="2.40" height="76.50" fill="url(#hOR)" />
<line x1="134.34" y1="560.80" x2="134.34" y2="552.50" stroke="#6a6a6a" stroke-width="1.2" />
<rect x="133.14" y="560.50" width="2.40" height="66.00" fill="#A5002C" />
<line x1="137.81" y1="556.50" x2="137.81" y2="549.00" stroke="#6a6a6a" stroke-width="1.2" />
<rect x="136.61" y="556.20" width="2.40" height="70.30" fill="#C4C2C9" />
<line x1="141.28" y1="548.10" x2="141.28" y2="539.60" stroke="#6a6a6a" stroke-width="1.2" />
<rect x="140.08" y="547.80" width="2.40" height="78.70" fill="url(#hGY)" />
<line x1="144.75" y1="541.80" x2="144.75" y2="533.70" stroke="#6a6a6a" stroke-width="1.2" />
<rect x="143.55" y="541.50" width="2.40" height="85.00" fill="#23407F" />
<line x1="148.22" y1="560.80" x2="148.22" y2="549.00" stroke="#6a6a6a" stroke-width="1.2" />
<rect x="147.02" y="560.50" width="2.40" height="66.00" fill="url(#hBL)" />
<line x1="137.81" y1="626.50" x2="137.81" y2="629.50" stroke="#2a2a2a" stroke-width="1.0" />
<text x="137.80999999999997" y="640.0" font-size="8.2" text-anchor="middle" textLength="9.0" lengthAdjust="spacingAndGlyphs">S3</text>
<line x1="154.60" y1="619.20" x2="154.60" y2="616.90" stroke="#6a6a6a" stroke-width="1.2" />
<rect x="153.40" y="618.90" width="2.40" height="7.60" fill="#DC8A1C" />
<line x1="158.07" y1="619.60" x2="158.07" y2="617.60" stroke="#6a6a6a" stroke-width="1.2" />
<rect x="156.87" y="619.30" width="2.40" height="7.20" fill="url(#hOR)" />
<line x1="161.54" y1="613.90" x2="161.54" y2="611.80" stroke="#6a6a6a" stroke-width="1.2" />
<rect x="160.34" y="613.60" width="2.40" height="12.90" fill="#A5002C" />
<line x1="165.01" y1="613.40" x2="165.01" y2="611.50" stroke="#6a6a6a" stroke-width="1.2" />
<rect x="163.81" y="613.10" width="2.40" height="13.40" fill="#C4C2C9" />
<line x1="168.48" y1="622.60" x2="168.48" y2="621.00" stroke="#6a6a6a" stroke-width="1.2" />
<rect x="167.28" y="622.30" width="2.40" height="4.20" fill="url(#hGY)" />
<line x1="171.95" y1="613.40" x2="171.95" y2="611.50" stroke="#6a6a6a" stroke-width="1.2" />
<rect x="170.75" y="613.10" width="2.40" height="13.40" fill="#23407F" />
<line x1="175.42" y1="620.60" x2="175.42" y2="618.30" stroke="#6a6a6a" stroke-width="1.2" />
<rect x="174.22" y="620.30" width="2.40" height="6.20" fill="url(#hBL)" />
<line x1="165.01" y1="626.50" x2="165.01" y2="629.50" stroke="#2a2a2a" stroke-width="1.0" />
<text x="165.01" y="640.0" font-size="8.2" text-anchor="middle" textLength="9.0" lengthAdjust="spacingAndGlyphs">S4</text>
<line x1="181.80" y1="618.60" x2="181.80" y2="616.30" stroke="#6a6a6a" stroke-width="1.2" />
<rect x="180.60" y="618.30" width="2.40" height="8.20" fill="#DC8A1C" />
<line x1="185.27" y1="619.60" x2="185.27" y2="617.30" stroke="#6a6a6a" stroke-width="1.2" />
<rect x="184.07" y="619.30" width="2.40" height="7.20" fill="url(#hOR)" />
<line x1="188.74" y1="614.30" x2="188.74" y2="612.90" stroke="#6a6a6a" stroke-width="1.2" />
<rect x="187.54" y="614.00" width="2.40" height="12.50" fill="#A5002C" />
<line x1="192.21" y1="615.60" x2="192.21" y2="614.20" stroke="#6a6a6a" stroke-width="1.2" />
<rect x="191.01" y="615.30" width="2.40" height="11.20" fill="#C4C2C9" />
<line x1="195.68" y1="623.30" x2="195.68" y2="622.00" stroke="#6a6a6a" stroke-width="1.2" />
<rect x="194.48" y="623.00" width="2.40" height="3.50" fill="url(#hGY)" />
<line x1="199.15" y1="622.20" x2="199.15" y2="621.00" stroke="#6a6a6a" stroke-width="1.2" />
<rect x="197.95" y="621.90" width="2.40" height="4.60" fill="#23407F" />
<line x1="202.62" y1="622.20" x2="202.62" y2="621.00" stroke="#6a6a6a" stroke-width="1.2" />
<rect x="201.42" y="621.90" width="2.40" height="4.60" fill="url(#hBL)" />
<line x1="192.21" y1="626.50" x2="192.21" y2="629.50" stroke="#2a2a2a" stroke-width="1.0" />
<text x="192.20999999999998" y="640.0" font-size="8.2" text-anchor="middle" textLength="9.0" lengthAdjust="spacingAndGlyphs">S5</text>
<rect x="158.80" y="516.30" width="12.60" height="4.90" fill="#DC8A1C" />
<text x="174.5" y="521.5999999999999" font-size="7.8" textLength="9.4" lengthAdjust="spacingAndGlyphs">WT</text>
<rect x="158.80" y="524.62" width="12.60" height="4.90" fill="url(#hOR)" />
<text x="174.5" y="529.92" font-size="7.8" textLength="29.5" lengthAdjust="spacingAndGlyphs">WT+Tam</text>
<rect x="158.80" y="532.94" width="12.60" height="4.90" fill="#A5002C" />
<text x="174.5" y="538.2399999999999" font-size="7.8" textLength="12.5" lengthAdjust="spacingAndGlyphs">F/F</text>
<rect x="158.80" y="541.26" width="12.60" height="4.90" fill="url(#hRD)" />
<text x="174.5" y="546.56" font-size="7.8" textLength="34.5" lengthAdjust="spacingAndGlyphs">F/F + Tam</text>
<rect x="158.80" y="549.58" width="12.60" height="4.90" fill="#C4C2C9" />
<text x="174.5" y="554.8799999999999" font-size="7.8" textLength="16.2" lengthAdjust="spacingAndGlyphs">DKO</text>
<rect x="158.80" y="557.90" width="12.60" height="4.90" fill="url(#hGY)" />
<text x="174.5" y="563.1999999999999" font-size="7.8" textLength="35.5" lengthAdjust="spacingAndGlyphs">DKO+Tam</text>
<rect x="158.80" y="566.22" width="12.60" height="4.90" fill="#23407F" />
<text x="174.5" y="571.5199999999999" font-size="7.8" textLength="15.5" lengthAdjust="spacingAndGlyphs">TKO</text>
<rect x="158.80" y="574.54" width="12.60" height="4.90" fill="url(#hBL)" />
<text x="174.5" y="579.8399999999999" font-size="7.8" textLength="34.8" lengthAdjust="spacingAndGlyphs">TKO+Tam</text>
<line x1="288.80" y1="25.00" x2="288.80" y2="136.60" stroke="#2a2a2a" stroke-width="1.3" />
<line x1="288.20" y1="136.00" x2="340.40" y2="136.00" stroke="#2a2a2a" stroke-width="1.3" />
<line x1="285.80" y1="27.20" x2="288.80" y2="27.20" stroke="#2a2a2a" stroke-width="1.0" />
<text x="282.7" y="29.8" font-size="7.6" text-anchor="end" textLength="12.600000000000001" lengthAdjust="spacingAndGlyphs">150</text>
<line x1="285.80" y1="63.50" x2="288.80" y2="63.50" stroke="#2a2a2a" stroke-width="1.0" />
<text x="282.7" y="66.1" font-size="7.6" text-anchor="end" textLength="12.600000000000001" lengthAdjust="spacingAndGlyphs">100</text>
<line x1="285.80" y1="99.80" x2="288.80" y2="99.80" stroke="#2a2a2a" stroke-width="1.0" />
<text x="282.7" y="102.39999999999999" font-size="7.6" text-anchor="end" textLength="8.4" lengthAdjust="spacingAndGlyphs">50</text>
<line x1="285.80" y1="136.00" x2="288.80" y2="136.00" stroke="#2a2a2a" stroke-width="1.0" />
<text x="282.7" y="138.6" font-size="7.6" text-anchor="end" textLength="4.2" lengthAdjust="spacingAndGlyphs">0</text>
<text x="314.6" y="31.4" font-size="7.8" text-anchor="middle" textLength="25.4" lengthAdjust="spacingAndGlyphs">CFU-M</text>
<line x1="292.85" y1="74.20" x2="292.85" y2="69.20" stroke="#333" stroke-width="0.9" />
<line x1="292.05" y1="69.50" x2="293.65" y2="69.50" stroke="#333" stroke-width="0.7" />
<rect x="290.40" y="74.20" width="4.90" height="61.80" fill="#DC8A1C" />
<line x1="292.85" y1="136.00" x2="292.85" y2="138.80" stroke="#2a2a2a" stroke-width="0.9" />
<line x1="299.65" y1="53.10" x2="299.65" y2="48.90" stroke="#333" stroke-width="0.9" />
<line x1="298.85" y1="49.20" x2="300.45" y2="49.20" stroke="#333" stroke-width="0.7" />
<rect x="297.20" y="53.10" width="4.90" height="82.90" fill="url(#hOR)" />
<line x1="299.65" y1="136.00" x2="299.65" y2="138.80" stroke="#2a2a2a" stroke-width="0.9" />
<line x1="306.65" y1="66.90" x2="306.65" y2="64.30" stroke="#333" stroke-width="0.9" />
<line x1="305.85" y1="64.60" x2="307.45" y2="64.60" stroke="#333" stroke-width="0.7" />
<rect x="304.20" y="66.90" width="4.90" height="69.10" fill="#A5002C" />
<line x1="306.65" y1="136.00" x2="306.65" y2="138.80" stroke="#2a2a2a" stroke-width="0.9" />
<line x1="313.65" y1="70.00" x2="313.65" y2="65.40" stroke="#333" stroke-width="0.9" />
<line x1="312.85" y1="65.70" x2="314.45" y2="65.70" stroke="#333" stroke-width="0.7" />
<rect x="311.20" y="70.00" width="4.90" height="66.00" fill="#C4C2C9" />
<line x1="313.65" y1="136.00" x2="313.65" y2="138.80" stroke="#2a2a2a" stroke-width="0.9" />
<line x1="320.65" y1="78.20" x2="320.65" y2="72.60" stroke="#333" stroke-width="0.9" />
<line x1="319.85" y1="72.90" x2="321.45" y2="72.90" stroke="#333" stroke-width="0.7" />
<rect x="318.20" y="78.20" width="4.90" height="57.80" fill="url(#hGY)" />
<line x1="320.65" y1="136.00" x2="320.65" y2="138.80" stroke="#2a2a2a" stroke-width="0.9" />
<line x1="327.75" y1="66.20" x2="327.75" y2="60.30" stroke="#333" stroke-width="0.9" />
<line x1="326.95" y1="60.60" x2="328.55" y2="60.60" stroke="#333" stroke-width="0.7" />
<rect x="325.30" y="66.20" width="4.90" height="69.80" fill="#23407F" />
<line x1="327.75" y1="136.00" x2="327.75" y2="138.80" stroke="#2a2a2a" stroke-width="0.9" />
<line x1="334.85" y1="69.20" x2="334.85" y2="64.60" stroke="#333" stroke-width="0.9" />
<line x1="334.05" y1="64.90" x2="335.65" y2="64.90" stroke="#333" stroke-width="0.7" />
<rect x="332.40" y="69.20" width="4.90" height="66.80" fill="url(#hBL)" />
<line x1="334.85" y1="136.00" x2="334.85" y2="138.80" stroke="#2a2a2a" stroke-width="0.9" />
<line x1="364.20" y1="25.00" x2="364.20" y2="136.60" stroke="#2a2a2a" stroke-width="1.3" />
<line x1="363.60" y1="136.00" x2="416.20" y2="136.00" stroke="#2a2a2a" stroke-width="1.3" />
<line x1="361.20" y1="27.20" x2="364.20" y2="27.20" stroke="#2a2a2a" stroke-width="1.0" />
<text x="358.7" y="29.8" font-size="7.6" text-anchor="end" textLength="8.4" lengthAdjust="spacingAndGlyphs">80</text>
<line x1="361.20" y1="54.35" x2="364.20" y2="54.35" stroke="#2a2a2a" stroke-width="1.0" />
<text x="358.7" y="56.95" font-size="7.6" text-anchor="end" textLength="8.4" lengthAdjust="spacingAndGlyphs">60</text>
<line x1="361.20" y1="81.50" x2="364.20" y2="81.50" stroke="#2a2a2a" stroke-width="1.0" />
<text x="358.7" y="84.1" font-size="7.6" text-anchor="end" textLength="8.4" lengthAdjust="spacingAndGlyphs">40</text>
<line x1="361.20" y1="108.65" x2="364.20" y2="108.65" stroke="#2a2a2a" stroke-width="1.0" />
<text x="358.7" y="111.25" font-size="7.6" text-anchor="end" textLength="8.4" lengthAdjust="spacingAndGlyphs">20</text>
<line x1="361.20" y1="136.00" x2="364.20" y2="136.00" stroke="#2a2a2a" stroke-width="1.0" />
<text x="358.7" y="138.6" font-size="7.6" text-anchor="end" textLength="4.2" lengthAdjust="spacingAndGlyphs">0</text>
<text x="390.6" y="31.4" font-size="7.8" text-anchor="middle" textLength="31.9" lengthAdjust="spacingAndGlyphs">CFU-GM</text>
<line x1="368.65" y1="71.60" x2="368.65" y2="66.30" stroke="#333" stroke-width="0.9" />
<line x1="367.85" y1="66.60" x2="369.45" y2="66.60" stroke="#333" stroke-width="0.7" />
<rect x="366.10" y="71.60" width="5.10" height="64.40" fill="#DC8A1C" />
<line x1="368.65" y1="136.00" x2="368.65" y2="138.80" stroke="#2a2a2a" stroke-width="0.9" />
<line x1="375.65" y1="75.00" x2="375.65" y2="69.30" stroke="#333" stroke-width="0.9" />
<line x1="374.85" y1="69.60" x2="376.45" y2="69.60" stroke="#333" stroke-width="0.7" />
<rect x="373.10" y="75.00" width="5.10" height="61.00" fill="url(#hOR)" />
<line x1="375.65" y1="136.00" x2="375.65" y2="138.80" stroke="#2a2a2a" stroke-width="0.9" />
<line x1="382.85" y1="88.90" x2="382.85" y2="86.60" stroke="#333" stroke-width="0.9" />
<line x1="382.05" y1="86.90" x2="383.65" y2="86.90" stroke="#333" stroke-width="0.7" />
<rect x="380.30" y="88.90" width="5.10" height="47.10" fill="#A5002C" />
<line x1="382.85" y1="136.00" x2="382.85" y2="138.80" stroke="#2a2a2a" stroke-width="0.9" />
<line x1="389.85" y1="72.70" x2="389.85" y2="65.40" stroke="#333" stroke-width="0.9" />
<line x1="389.05" y1="65.70" x2="390.65" y2="65.70" stroke="#333" stroke-width="0.7" />
<rect x="387.30" y="72.70" width="5.10" height="63.30" fill="#C4C2C9" />
<line x1="389.85" y1="136.00" x2="389.85" y2="138.80" stroke="#2a2a2a" stroke-width="0.9" />
<line x1="397.15" y1="63.50" x2="397.15" y2="54.70" stroke="#333" stroke-width="0.9" />
<line x1="396.35" y1="55.00" x2="397.95" y2="55.00" stroke="#333" stroke-width="0.7" />
<rect x="394.60" y="63.50" width="5.10" height="72.50" fill="url(#hGY)" />
<line x1="397.15" y1="136.00" x2="397.15" y2="138.80" stroke="#2a2a2a" stroke-width="0.9" />
<line x1="404.25" y1="65.10" x2="404.25" y2="60.50" stroke="#333" stroke-width="0.9" />
<line x1="403.45" y1="60.80" x2="405.05" y2="60.80" stroke="#333" stroke-width="0.7" />
<rect x="401.70" y="65.10" width="5.10" height="70.90" fill="#23407F" />
<line x1="404.25" y1="136.00" x2="404.25" y2="138.80" stroke="#2a2a2a" stroke-width="0.9" />
<line x1="411.15" y1="61.20" x2="411.15" y2="53.10" stroke="#333" stroke-width="0.9" />
<line x1="410.35" y1="53.40" x2="411.95" y2="53.40" stroke="#333" stroke-width="0.7" />
<rect x="408.60" y="61.20" width="5.10" height="74.80" fill="url(#hBL)" />
<line x1="411.15" y1="136.00" x2="411.15" y2="138.80" stroke="#2a2a2a" stroke-width="0.9" />
<line x1="444.50" y1="25.00" x2="444.50" y2="136.60" stroke="#2a2a2a" stroke-width="1.3" />
<line x1="443.90" y1="136.00" x2="496.40" y2="136.00" stroke="#2a2a2a" stroke-width="1.3" />
<line x1="441.50" y1="27.20" x2="444.50" y2="27.20" stroke="#2a2a2a" stroke-width="1.0" />
<text x="439.1" y="29.8" font-size="7.6" text-anchor="end" textLength="12.600000000000001" lengthAdjust="spacingAndGlyphs">150</text>
<line x1="441.50" y1="63.50" x2="444.50" y2="63.50" stroke="#2a2a2a" stroke-width="1.0" />
<text x="439.1" y="66.1" font-size="7.6" text-anchor="end" textLength="12.600000000000001" lengthAdjust="spacingAndGlyphs">100</text>
<line x1="441.50" y1="99.80" x2="444.50" y2="99.80" stroke="#2a2a2a" stroke-width="1.0" />
<text x="439.1" y="102.39999999999999" font-size="7.6" text-anchor="end" textLength="8.4" lengthAdjust="spacingAndGlyphs">50</text>
<line x1="441.50" y1="136.00" x2="444.50" y2="136.00" stroke="#2a2a2a" stroke-width="1.0" />
<text x="439.1" y="138.6" font-size="7.6" text-anchor="end" textLength="4.2" lengthAdjust="spacingAndGlyphs">0</text>
<text x="470.8" y="31.4" font-size="7.8" text-anchor="middle" textLength="22.2" lengthAdjust="spacingAndGlyphs">BFU-E</text>
<line x1="449.10" y1="66.30" x2="449.10" y2="63.50" stroke="#333" stroke-width="0.9" />
<line x1="448.30" y1="63.80" x2="449.90" y2="63.80" stroke="#333" stroke-width="0.7" />
<rect x="446.60" y="66.30" width="5.00" height="69.70" fill="#DC8A1C" />
<line x1="449.10" y1="136.00" x2="449.10" y2="138.80" stroke="#2a2a2a" stroke-width="0.9" />
<line x1="456.00" y1="54.30" x2="456.00" y2="50.30" stroke="#333" stroke-width="0.9" />
<line x1="455.20" y1="50.60" x2="456.80" y2="50.60" stroke="#333" stroke-width="0.7" />
<rect x="453.50" y="54.30" width="5.00" height="81.70" fill="url(#hOR)" />
<line x1="456.00" y1="136.00" x2="456.00" y2="138.80" stroke="#2a2a2a" stroke-width="0.9" />
<line x1="462.90" y1="66.30" x2="462.90" y2="61.20" stroke="#333" stroke-width="0.9" />
<line x1="462.10" y1="61.50" x2="463.70" y2="61.50" stroke="#333" stroke-width="0.7" />
<rect x="460.40" y="66.30" width="5.00" height="69.70" fill="#A5002C" />
<line x1="462.90" y1="136.00" x2="462.90" y2="138.80" stroke="#2a2a2a" stroke-width="0.9" />
<line x1="470.10" y1="62.80" x2="470.10" y2="58.20" stroke="#333" stroke-width="0.9" />
<line x1="469.30" y1="58.50" x2="470.90" y2="58.50" stroke="#333" stroke-width="0.7" />
<rect x="467.60" y="62.80" width="5.00" height="73.20" fill="#C4C2C9" />
<line x1="470.10" y1="136.00" x2="470.10" y2="138.80" stroke="#2a2a2a" stroke-width="0.9" />
<line x1="477.20" y1="67.00" x2="477.20" y2="63.50" stroke="#333" stroke-width="0.9" />
<line x1="476.40" y1="63.80" x2="478.00" y2="63.80" stroke="#333" stroke-width="0.7" />
<rect x="474.70" y="67.00" width="5.00" height="69.00" fill="url(#hGY)" />
<line x1="477.20" y1="136.00" x2="477.20" y2="138.80" stroke="#2a2a2a" stroke-width="0.9" />
<line x1="484.40" y1="58.40" x2="484.40" y2="54.30" stroke="#333" stroke-width="0.9" />
<line x1="483.60" y1="54.60" x2="485.20" y2="54.60" stroke="#333" stroke-width="0.7" />
<rect x="481.90" y="58.40" width="5.00" height="77.60" fill="#23407F" />
<line x1="484.40" y1="136.00" x2="484.40" y2="138.80" stroke="#2a2a2a" stroke-width="0.9" />
<line x1="491.10" y1="71.10" x2="491.10" y2="68.10" stroke="#333" stroke-width="0.9" />
<line x1="490.30" y1="68.40" x2="491.90" y2="68.40" stroke="#333" stroke-width="0.7" />
<rect x="488.60" y="71.10" width="5.00" height="64.90" fill="url(#hBL)" />
<line x1="491.10" y1="136.00" x2="491.10" y2="138.80" stroke="#2a2a2a" stroke-width="0.9" />
<path d="M299.70,42.95 L299.70,45.65 M298.53,43.62 L300.87,44.97 M300.87,43.62 L298.53,44.97 " stroke="#333" stroke-width="0.85" fill="none"/>
<text transform="translate(263.6,79.8) rotate(-90)" font-size="7.8" text-anchor="middle" fill="#222" textLength="69" lengthAdjust="spacingAndGlyphs">Colonies (per 1x10<tspan font-size="5" dy="-2.6">5</tspan><tspan dy="2.6">)</tspan></text>
<text x="310.0" y="160.6" font-size="8.2" text-anchor="middle" fill="#3a3a3a" style="stroke:#3a3a3a" textLength="35.8" lengthAdjust="spacingAndGlyphs">Untreated</text>
<text x="397.0" y="160.6" font-size="8.2" text-anchor="middle" fill="#222" textLength="57" lengthAdjust="spacingAndGlyphs">+4-OHT <tspan font-style="italic">ex vivo</tspan></text>
<rect x="278.80" y="163.00" width="66.6" height="66.8" fill="#fff" stroke="#b4b4b4" stroke-width="0.9"/>
<line x1="277.40" y1="169.60" x2="279.40" y2="169.60" stroke="#555" stroke-width="0.9" />
<line x1="277.40" y1="185.20" x2="279.40" y2="185.20" stroke="#555" stroke-width="0.9" />
<line x1="277.40" y1="203.20" x2="279.40" y2="203.20" stroke="#555" stroke-width="0.9" />
<line x1="277.40" y1="215.00" x2="279.40" y2="215.00" stroke="#555" stroke-width="0.9" />
<line x1="277.40" y1="225.20" x2="279.40" y2="225.20" stroke="#555" stroke-width="0.9" />
<line x1="278.00" y1="173.00" x2="278.80" y2="173.00" stroke="#999" stroke-width="0.5" />
<line x1="278.00" y1="177.00" x2="278.80" y2="177.00" stroke="#999" stroke-width="0.5" />
<line x1="278.00" y1="180.00" x2="278.80" y2="180.00" stroke="#999" stroke-width="0.5" />
<line x1="278.00" y1="182.00" x2="278.80" y2="182.00" stroke="#999" stroke-width="0.5" />
<line x1="278.00" y1="189.00" x2="278.80" y2="189.00" stroke="#999" stroke-width="0.5" />
<line x1="278.00" y1="193.00" x2="278.80" y2="193.00" stroke="#999" stroke-width="0.5" />
<line x1="278.00" y1="196.00" x2="278.80" y2="196.00" stroke="#999" stroke-width="0.5" />
<line x1="278.00" y1="198.00" x2="278.80" y2="198.00" stroke="#999" stroke-width="0.5" />
<line x1="278.00" y1="207.00" x2="278.80" y2="207.00" stroke="#999" stroke-width="0.5" />
<line x1="278.00" y1="210.00" x2="278.80" y2="210.00" stroke="#999" stroke-width="0.5" />
<line x1="282.30" y1="229.20" x2="282.30" y2="231.00" stroke="#555" stroke-width="0.9" />
<line x1="292.80" y1="229.20" x2="292.80" y2="231.00" stroke="#555" stroke-width="0.9" />
<line x1="304.40" y1="229.20" x2="304.40" y2="231.00" stroke="#555" stroke-width="0.9" />
<line x1="322.40" y1="229.20" x2="322.40" y2="231.00" stroke="#555" stroke-width="0.9" />
<line x1="338.40" y1="229.20" x2="338.40" y2="231.00" stroke="#555" stroke-width="0.9" />
<g filter="url(#blur07)">
<path d="M293.80,175.20 C300.80,173.60 318.80,173.60 325.00,176.20 L326.00,193.00 C324.80,203.00 323.80,211.00 321.80,215.60 L294.00,216.00 C293.00,203.00 293.00,188.00 293.80,175.20 Z" fill="#3a54f4" fill-opacity="0.82"/>
</g>
<g filter="url(#blur2)">
<ellipse cx="307.80" cy="186.00" rx="14" ry="10" fill="#1a36f0" fill-opacity="0.7"/>
<ellipse cx="305.80" cy="203.00" rx="10" ry="8" fill="#2a44f0" fill-opacity="0.4"/>
</g>
<rect x="290.80" y="196.00" width="37" height="22" fill="url(#wfade)" filter="url(#blur1)"/>
<rect x="289.80" y="172.00" width="39" height="47" fill="#fff" filter="url(#speck)" opacity="0.55"/>
<ellipse cx="307.80" cy="186.00" rx="17.0" ry="10.5" fill="url(#gB)" fill-opacity="0.8"/>
<ellipse cx="297.60" cy="182.60" rx="5.33" ry="7.47" fill="url(#gy)"/>
<ellipse cx="306.60" cy="186.60" rx="4.57" ry="8.57" fill="url(#gG)"/>
<ellipse cx="316.00" cy="185.00" rx="8.38" ry="10.54" fill="url(#gr)"/>
<ellipse cx="314.20" cy="211.20" rx="6.12" ry="3.60" fill="url(#gS)"/>
<ellipse cx="294.00" cy="214.60" rx="1.60" ry="1.60" fill="url(#gG)"/>
<rect x="288.50" y="172.40" width="41.0" height="44.9" fill="none" stroke="#909090" stroke-width="0.8"/>
<line x1="303.00" y1="172.40" x2="303.00" y2="203.90" stroke="#20242e" stroke-width="1.15" />
<line x1="310.30" y1="172.40" x2="310.30" y2="193.50" stroke="#20242e" stroke-width="1.15" />
<line x1="310.30" y1="193.50" x2="329.50" y2="193.50" stroke="#5a5a5a" stroke-width="1.0" />
<line x1="288.50" y1="203.90" x2="329.50" y2="203.90" stroke="#5a5a5a" stroke-width="1.0" />
<line x1="308.50" y1="203.90" x2="308.50" y2="217.30" stroke="#20242e" stroke-width="1.15" />
<text x="283.90000000000003" y="170.0" font-size="4.3" text-anchor="middle" fill="#5a5a5a" style="stroke:#5a5a5a" class="ns">S1</text>
<text x="284.1" y="174.6" font-size="4.3" text-anchor="middle" fill="#5a5a5a" style="stroke:#5a5a5a" class="ns">18.6</text>
<text x="304.8" y="170.0" font-size="4.3" text-anchor="middle" fill="#5a5a5a" style="stroke:#5a5a5a" class="ns">S2</text>
<text x="305.40000000000003" y="174.6" font-size="4.3" text-anchor="middle" fill="#5a5a5a" style="stroke:#5a5a5a" class="ns">17.6</text>
<text x="339.2" y="170.0" font-size="4.3" text-anchor="middle" fill="#5a5a5a" style="stroke:#5a5a5a" class="ns">S3</text>
<text x="339.2" y="174.6" font-size="4.3" text-anchor="middle" fill="#5a5a5a" style="stroke:#5a5a5a" class="ns">45.1</text>
<text x="339.2" y="198.2" font-size="4.3" text-anchor="middle" fill="#5a5a5a" style="stroke:#5a5a5a" class="ns">S4</text>
<text x="339.2" y="202.8" font-size="4.3" text-anchor="middle" fill="#5a5a5a" style="stroke:#5a5a5a" class="ns">5.77</text>
<text x="283.90000000000003" y="221.6" font-size="4.3" text-anchor="middle" fill="#5a5a5a" style="stroke:#5a5a5a" class="ns">S0</text>
<text x="284.1" y="226.2" font-size="4.3" text-anchor="middle" fill="#5a5a5a" style="stroke:#5a5a5a" class="ns">4.18</text>
<text x="339.2" y="221.6" font-size="4.3" text-anchor="middle" fill="#5a5a5a" style="stroke:#5a5a5a" class="ns">S5</text>
<text x="339.2" y="226.2" font-size="4.3" text-anchor="middle" fill="#5a5a5a" style="stroke:#5a5a5a" class="ns">8.88</text>
<ellipse cx="277.90" cy="214.30" rx="0.9" ry="1.4" fill="#000"/>
<ellipse cx="292.80" cy="230.60" rx="1.6" ry="0.8" fill="#000"/>
<text x="271.20" y="171.50" font-size="5.5" text-anchor="end" fill="#2a2a2a" style="stroke-width:0.12px">10</text>
<text x="271.20" y="187.10" font-size="5.5" text-anchor="end" fill="#2a2a2a" style="stroke-width:0.12px">10</text>
<text x="271.20" y="205.10" font-size="5.5" text-anchor="end" fill="#2a2a2a" style="stroke-width:0.12px">10</text>
<text x="271.40" y="169.40" font-size="3.2" fill="#222" class="ns">5</text>
<text x="271.40" y="185.00" font-size="3.2" fill="#222" class="ns">4</text>
<text x="271.40" y="203.00" font-size="3.2" fill="#222" class="ns">3</text>
<text x="271.20" y="216.90" font-size="5.5" text-anchor="end" fill="#2a2a2a" style="stroke-width:0.12px">0</text>
<text x="271.20" y="227.10" font-size="5.5" text-anchor="end" fill="#2a2a2a" style="stroke-width:0.12px">-10</text>
<text x="271.40" y="225.00" font-size="3.2" fill="#222" class="ns">3</text>
<text x="282.30" y="239.60" font-size="5.5" text-anchor="middle" fill="#2a2a2a" style="stroke-width:0.12px">-10</text>
<text x="286.10" y="237.60" font-size="3.2" fill="#222" class="ns">3</text>
<text x="292.80" y="239.60" font-size="5.5" text-anchor="middle" fill="#2a2a2a" style="stroke-width:0.12px">0</text>
<text x="304.40" y="239.60" font-size="5.5" text-anchor="middle" fill="#2a2a2a" style="stroke-width:0.12px">10</text>
<text x="307.30" y="237.60" font-size="3.2" fill="#222" class="ns">3</text>
<text x="322.40" y="239.60" font-size="5.5" text-anchor="middle" fill="#2a2a2a" style="stroke-width:0.12px">10</text>
<text x="325.30" y="237.60" font-size="3.2" fill="#222" class="ns">4</text>
<text x="338.40" y="239.60" font-size="5.5" text-anchor="middle" fill="#2a2a2a" style="stroke-width:0.12px">10</text>
<text x="341.30" y="237.60" font-size="3.2" fill="#222" class="ns">5</text>
<rect x="365.60" y="163.00" width="66.6" height="66.8" fill="#fff" stroke="#b4b4b4" stroke-width="0.9"/>
<line x1="364.20" y1="169.60" x2="366.20" y2="169.60" stroke="#555" stroke-width="0.9" />
<line x1="364.20" y1="185.20" x2="366.20" y2="185.20" stroke="#555" stroke-width="0.9" />
<line x1="364.20" y1="203.20" x2="366.20" y2="203.20" stroke="#555" stroke-width="0.9" />
<line x1="364.20" y1="215.00" x2="366.20" y2="215.00" stroke="#555" stroke-width="0.9" />
<line x1="364.20" y1="225.20" x2="366.20" y2="225.20" stroke="#555" stroke-width="0.9" />
<line x1="364.80" y1="173.00" x2="365.60" y2="173.00" stroke="#999" stroke-width="0.5" />
<line x1="364.80" y1="177.00" x2="365.60" y2="177.00" stroke="#999" stroke-width="0.5" />
<line x1="364.80" y1="180.00" x2="365.60" y2="180.00" stroke="#999" stroke-width="0.5" />
<line x1="364.80" y1="182.00" x2="365.60" y2="182.00" stroke="#999" stroke-width="0.5" />
<line x1="364.80" y1="189.00" x2="365.60" y2="189.00" stroke="#999" stroke-width="0.5" />
<line x1="364.80" y1="193.00" x2="365.60" y2="193.00" stroke="#999" stroke-width="0.5" />
<line x1="364.80" y1="196.00" x2="365.60" y2="196.00" stroke="#999" stroke-width="0.5" />
<line x1="364.80" y1="198.00" x2="365.60" y2="198.00" stroke="#999" stroke-width="0.5" />
<line x1="364.80" y1="207.00" x2="365.60" y2="207.00" stroke="#999" stroke-width="0.5" />
<line x1="364.80" y1="210.00" x2="365.60" y2="210.00" stroke="#999" stroke-width="0.5" />
<line x1="369.10" y1="229.20" x2="369.10" y2="231.00" stroke="#555" stroke-width="0.9" />
<line x1="379.60" y1="229.20" x2="379.60" y2="231.00" stroke="#555" stroke-width="0.9" />
<line x1="391.20" y1="229.20" x2="391.20" y2="231.00" stroke="#555" stroke-width="0.9" />
<line x1="409.20" y1="229.20" x2="409.20" y2="231.00" stroke="#555" stroke-width="0.9" />
<line x1="425.20" y1="229.20" x2="425.20" y2="231.00" stroke="#555" stroke-width="0.9" />
<g filter="url(#blur07)">
<path d="M380.60,175.20 C387.60,173.60 405.60,173.60 411.80,176.20 L412.80,193.00 C411.60,203.00 410.60,211.00 408.60,215.60 L380.80,216.00 C379.80,203.00 379.80,188.00 380.60,175.20 Z" fill="#3a54f4" fill-opacity="0.82"/>
</g>
<g filter="url(#blur2)">
<ellipse cx="394.60" cy="186.00" rx="14" ry="10" fill="#1a36f0" fill-opacity="0.7"/>
<ellipse cx="392.60" cy="203.00" rx="10" ry="8" fill="#2a44f0" fill-opacity="0.4"/>
</g>
<rect x="377.60" y="196.00" width="37" height="22" fill="url(#wfade)" filter="url(#blur1)"/>
<rect x="376.60" y="172.00" width="39" height="47" fill="#fff" filter="url(#speck)" opacity="0.55"/>
<ellipse cx="394.60" cy="186.00" rx="17.0" ry="10.5" fill="url(#gB)" fill-opacity="0.8"/>
<ellipse cx="385.00" cy="182.40" rx="6.13" ry="8.27" fill="url(#go)"/>
<ellipse cx="393.80" cy="187.60" rx="4.29" ry="7.71" fill="url(#gG)"/>
<ellipse cx="403.00" cy="185.20" rx="8.38" ry="10.54" fill="url(#gr)"/>
<ellipse cx="400.60" cy="211.80" rx="7.92" ry="3.20" fill="url(#gS)"/>
<ellipse cx="380.80" cy="214.60" rx="1.60" ry="1.60" fill="url(#gG)"/>
<rect x="375.30" y="172.40" width="41.0" height="44.9" fill="none" stroke="#909090" stroke-width="0.8"/>
<line x1="389.80" y1="172.40" x2="389.80" y2="203.90" stroke="#20242e" stroke-width="1.15" />
<line x1="397.10" y1="172.40" x2="397.10" y2="193.50" stroke="#20242e" stroke-width="1.15" />
<line x1="397.10" y1="193.50" x2="416.30" y2="193.50" stroke="#5a5a5a" stroke-width="1.0" />
<line x1="375.30" y1="203.90" x2="416.30" y2="203.90" stroke="#5a5a5a" stroke-width="1.0" />
<line x1="395.30" y1="203.90" x2="395.30" y2="217.30" stroke="#20242e" stroke-width="1.15" />
<text x="370.70000000000005" y="170.0" font-size="4.3" text-anchor="middle" fill="#5a5a5a" style="stroke:#5a5a5a" class="ns">S1</text>
<text x="370.90000000000003" y="174.6" font-size="4.3" text-anchor="middle" fill="#5a5a5a" style="stroke:#5a5a5a" class="ns">21.5</text>
<text x="391.6" y="170.0" font-size="4.3" text-anchor="middle" fill="#5a5a5a" style="stroke:#5a5a5a" class="ns">S2</text>
<text x="392.20000000000005" y="174.6" font-size="4.3" text-anchor="middle" fill="#5a5a5a" style="stroke:#5a5a5a" class="ns">12.8</text>
<text x="426.0" y="170.0" font-size="4.3" text-anchor="middle" fill="#5a5a5a" style="stroke:#5a5a5a" class="ns">S3</text>
<text x="426.0" y="174.6" font-size="4.3" text-anchor="middle" fill="#5a5a5a" style="stroke:#5a5a5a" class="ns">42.6</text>
<text x="426.0" y="198.2" font-size="4.3" text-anchor="middle" fill="#5a5a5a" style="stroke:#5a5a5a" class="ns">S4</text>
<text x="426.0" y="202.8" font-size="4.3" text-anchor="middle" fill="#5a5a5a" style="stroke:#5a5a5a" class="ns">5.48</text>
<text x="370.70000000000005" y="221.6" font-size="4.3" text-anchor="middle" fill="#5a5a5a" style="stroke:#5a5a5a" class="ns">S0</text>
<text x="370.90000000000003" y="226.2" font-size="4.3" text-anchor="middle" fill="#5a5a5a" style="stroke:#5a5a5a" class="ns">3.13</text>
<text x="426.0" y="221.6" font-size="4.3" text-anchor="middle" fill="#5a5a5a" style="stroke:#5a5a5a" class="ns">S5</text>
<text x="426.0" y="226.2" font-size="4.3" text-anchor="middle" fill="#5a5a5a" style="stroke:#5a5a5a" class="ns">7.76</text>
<ellipse cx="364.70" cy="214.30" rx="0.9" ry="1.4" fill="#000"/>
<ellipse cx="379.60" cy="230.60" rx="1.6" ry="0.8" fill="#000"/>
<text x="358.00" y="171.50" font-size="5.5" text-anchor="end" fill="#2a2a2a" style="stroke-width:0.12px">10</text>
<text x="358.00" y="187.10" font-size="5.5" text-anchor="end" fill="#2a2a2a" style="stroke-width:0.12px">10</text>
<text x="358.00" y="205.10" font-size="5.5" text-anchor="end" fill="#2a2a2a" style="stroke-width:0.12px">10</text>
<text x="358.20" y="169.40" font-size="3.2" fill="#222" class="ns">5</text>
<text x="358.20" y="185.00" font-size="3.2" fill="#222" class="ns">4</text>
<text x="358.20" y="203.00" font-size="3.2" fill="#222" class="ns">3</text>
<text x="358.00" y="216.90" font-size="5.5" text-anchor="end" fill="#2a2a2a" style="stroke-width:0.12px">0</text>
<text x="358.00" y="227.10" font-size="5.5" text-anchor="end" fill="#2a2a2a" style="stroke-width:0.12px">-10</text>
<text x="358.20" y="225.00" font-size="3.2" fill="#222" class="ns">3</text>
<text x="369.10" y="239.60" font-size="5.5" text-anchor="middle" fill="#2a2a2a" style="stroke-width:0.12px">-10</text>
<text x="372.90" y="237.60" font-size="3.2" fill="#222" class="ns">3</text>
<text x="379.60" y="239.60" font-size="5.5" text-anchor="middle" fill="#2a2a2a" style="stroke-width:0.12px">0</text>
<text x="391.20" y="239.60" font-size="5.5" text-anchor="middle" fill="#2a2a2a" style="stroke-width:0.12px">10</text>
<text x="394.10" y="237.60" font-size="3.2" fill="#222" class="ns">3</text>
<text x="409.20" y="239.60" font-size="5.5" text-anchor="middle" fill="#2a2a2a" style="stroke-width:0.12px">10</text>
<text x="412.10" y="237.60" font-size="3.2" fill="#222" class="ns">4</text>
<text x="425.20" y="239.60" font-size="5.5" text-anchor="middle" fill="#2a2a2a" style="stroke-width:0.12px">10</text>
<text x="428.10" y="237.60" font-size="3.2" fill="#222" class="ns">5</text>
<rect x="278.80" y="246.30" width="66.6" height="66.8" fill="#fff" stroke="#b4b4b4" stroke-width="0.9"/>
<line x1="277.40" y1="252.90" x2="279.40" y2="252.90" stroke="#555" stroke-width="0.9" />
<line x1="277.40" y1="268.50" x2="279.40" y2="268.50" stroke="#555" stroke-width="0.9" />
<line x1="277.40" y1="286.50" x2="279.40" y2="286.50" stroke="#555" stroke-width="0.9" />
<line x1="277.40" y1="298.30" x2="279.40" y2="298.30" stroke="#555" stroke-width="0.9" />
<line x1="277.40" y1="308.50" x2="279.40" y2="308.50" stroke="#555" stroke-width="0.9" />
<line x1="278.00" y1="256.30" x2="278.80" y2="256.30" stroke="#999" stroke-width="0.5" />
<line x1="278.00" y1="260.30" x2="278.80" y2="260.30" stroke="#999" stroke-width="0.5" />
<line x1="278.00" y1="263.30" x2="278.80" y2="263.30" stroke="#999" stroke-width="0.5" />
<line x1="278.00" y1="265.30" x2="278.80" y2="265.30" stroke="#999" stroke-width="0.5" />
<line x1="278.00" y1="272.30" x2="278.80" y2="272.30" stroke="#999" stroke-width="0.5" />
<line x1="278.00" y1="276.30" x2="278.80" y2="276.30" stroke="#999" stroke-width="0.5" />
<line x1="278.00" y1="279.30" x2="278.80" y2="279.30" stroke="#999" stroke-width="0.5" />
<line x1="278.00" y1="281.30" x2="278.80" y2="281.30" stroke="#999" stroke-width="0.5" />
<line x1="278.00" y1="290.30" x2="278.80" y2="290.30" stroke="#999" stroke-width="0.5" />
<line x1="278.00" y1="293.30" x2="278.80" y2="293.30" stroke="#999" stroke-width="0.5" />
<line x1="282.30" y1="312.50" x2="282.30" y2="314.30" stroke="#555" stroke-width="0.9" />
<line x1="292.80" y1="312.50" x2="292.80" y2="314.30" stroke="#555" stroke-width="0.9" />
<line x1="304.40" y1="312.50" x2="304.40" y2="314.30" stroke="#555" stroke-width="0.9" />
<line x1="322.40" y1="312.50" x2="322.40" y2="314.30" stroke="#555" stroke-width="0.9" />
<line x1="338.40" y1="312.50" x2="338.40" y2="314.30" stroke="#555" stroke-width="0.9" />
<g filter="url(#blur07)">
<path d="M293.80,258.50 C300.80,256.90 318.80,256.90 325.00,259.50 L326.00,276.30 C324.80,286.30 323.80,294.30 321.80,298.90 L294.00,299.30 C293.00,286.30 293.00,271.30 293.80,258.50 Z" fill="#3a54f4" fill-opacity="0.82"/>
</g>
<g filter="url(#blur2)">
<ellipse cx="307.80" cy="269.30" rx="14" ry="10" fill="#1a36f0" fill-opacity="0.7"/>
<ellipse cx="305.80" cy="286.30" rx="10" ry="8" fill="#2a44f0" fill-opacity="0.4"/>
</g>
<rect x="290.80" y="279.30" width="37" height="22" fill="url(#wfade)" filter="url(#blur1)"/>
<rect x="289.80" y="255.30" width="39" height="47" fill="#fff" filter="url(#speck)" opacity="0.55"/>
<ellipse cx="307.80" cy="269.30" rx="17.0" ry="10.5" fill="url(#gB)" fill-opacity="0.8"/>
<ellipse cx="297.80" cy="266.90" rx="5.60" ry="8.00" fill="url(#gy)"/>
<ellipse cx="306.60" cy="271.30" rx="4.57" ry="8.29" fill="url(#gG)"/>
<ellipse cx="314.20" cy="270.50" rx="7.84" ry="9.46" fill="url(#gr)"/>
<ellipse cx="313.80" cy="295.50" rx="6.12" ry="4.00" fill="url(#gS)"/>
<ellipse cx="294.00" cy="297.90" rx="1.60" ry="1.60" fill="url(#gG)"/>
<rect x="288.50" y="255.70" width="41.0" height="44.9" fill="none" stroke="#909090" stroke-width="0.8"/>
<line x1="303.00" y1="255.70" x2="303.00" y2="287.20" stroke="#20242e" stroke-width="1.15" />
<line x1="310.30" y1="255.70" x2="310.30" y2="276.80" stroke="#20242e" stroke-width="1.15" />
<line x1="310.30" y1="276.80" x2="329.50" y2="276.80" stroke="#5a5a5a" stroke-width="1.0" />
<line x1="288.50" y1="287.20" x2="329.50" y2="287.20" stroke="#5a5a5a" stroke-width="1.0" />
<line x1="308.50" y1="287.20" x2="308.50" y2="300.60" stroke="#20242e" stroke-width="1.15" />
<text x="283.90000000000003" y="253.3" font-size="4.3" text-anchor="middle" fill="#5a5a5a" style="stroke:#5a5a5a" class="ns">S1</text>
<text x="284.1" y="257.90000000000003" font-size="4.3" text-anchor="middle" fill="#5a5a5a" style="stroke:#5a5a5a" class="ns">19.5</text>
<text x="304.8" y="253.3" font-size="4.3" text-anchor="middle" fill="#5a5a5a" style="stroke:#5a5a5a" class="ns">S2</text>
<text x="305.40000000000003" y="257.90000000000003" font-size="4.3" text-anchor="middle" fill="#5a5a5a" style="stroke:#5a5a5a" class="ns">15.7</text>
<text x="339.2" y="253.3" font-size="4.3" text-anchor="middle" fill="#5a5a5a" style="stroke:#5a5a5a" class="ns">S3</text>
<text x="339.2" y="257.90000000000003" font-size="4.3" text-anchor="middle" fill="#5a5a5a" style="stroke:#5a5a5a" class="ns">40.2</text>
<text x="339.2" y="281.5" font-size="4.3" text-anchor="middle" fill="#5a5a5a" style="stroke:#5a5a5a" class="ns">S4</text>
<text x="339.2" y="286.1" font-size="4.3" text-anchor="middle" fill="#5a5a5a" style="stroke:#5a5a5a" class="ns">5.69</text>
<text x="283.90000000000003" y="304.90000000000003" font-size="4.3" text-anchor="middle" fill="#5a5a5a" style="stroke:#5a5a5a" class="ns">S0</text>
<text x="284.1" y="309.5" font-size="4.3" text-anchor="middle" fill="#5a5a5a" style="stroke:#5a5a5a" class="ns">3.98</text>
<text x="339.2" y="304.90000000000003" font-size="4.3" text-anchor="middle" fill="#5a5a5a" style="stroke:#5a5a5a" class="ns">S5</text>
<text x="339.2" y="309.5" font-size="4.3" text-anchor="middle" fill="#5a5a5a" style="stroke:#5a5a5a" class="ns">6.81</text>
<ellipse cx="277.90" cy="297.60" rx="0.9" ry="1.4" fill="#000"/>
<ellipse cx="292.80" cy="313.90" rx="1.6" ry="0.8" fill="#000"/>
<text x="271.20" y="254.80" font-size="5.5" text-anchor="end" fill="#2a2a2a" style="stroke-width:0.12px">10</text>
<text x="271.20" y="270.40" font-size="5.5" text-anchor="end" fill="#2a2a2a" style="stroke-width:0.12px">10</text>
<text x="271.20" y="288.40" font-size="5.5" text-anchor="end" fill="#2a2a2a" style="stroke-width:0.12px">10</text>
<text x="271.40" y="252.70" font-size="3.2" fill="#222" class="ns">5</text>
<text x="271.40" y="268.30" font-size="3.2" fill="#222" class="ns">4</text>
<text x="271.40" y="286.30" font-size="3.2" fill="#222" class="ns">3</text>
<text x="271.20" y="300.20" font-size="5.5" text-anchor="end" fill="#2a2a2a" style="stroke-width:0.12px">0</text>
<text x="271.20" y="310.40" font-size="5.5" text-anchor="end" fill="#2a2a2a" style="stroke-width:0.12px">-10</text>
<text x="271.40" y="308.30" font-size="3.2" fill="#222" class="ns">3</text>
<text x="282.30" y="322.90" font-size="5.5" text-anchor="middle" fill="#2a2a2a" style="stroke-width:0.12px">-10</text>
<text x="286.10" y="320.90" font-size="3.2" fill="#222" class="ns">3</text>
<text x="292.80" y="322.90" font-size="5.5" text-anchor="middle" fill="#2a2a2a" style="stroke-width:0.12px">0</text>
<text x="304.40" y="322.90" font-size="5.5" text-anchor="middle" fill="#2a2a2a" style="stroke-width:0.12px">10</text>
<text x="307.30" y="320.90" font-size="3.2" fill="#222" class="ns">3</text>
<text x="322.40" y="322.90" font-size="5.5" text-anchor="middle" fill="#2a2a2a" style="stroke-width:0.12px">10</text>
<text x="325.30" y="320.90" font-size="3.2" fill="#222" class="ns">4</text>
<text x="338.40" y="322.90" font-size="5.5" text-anchor="middle" fill="#2a2a2a" style="stroke-width:0.12px">10</text>
<text x="341.30" y="320.90" font-size="3.2" fill="#222" class="ns">5</text>
<rect x="365.60" y="246.30" width="66.6" height="66.8" fill="#fff" stroke="#b4b4b4" stroke-width="0.9"/>
<line x1="364.20" y1="252.90" x2="366.20" y2="252.90" stroke="#555" stroke-width="0.9" />
<line x1="364.20" y1="268.50" x2="366.20" y2="268.50" stroke="#555" stroke-width="0.9" />
<line x1="364.20" y1="286.50" x2="366.20" y2="286.50" stroke="#555" stroke-width="0.9" />
<line x1="364.20" y1="298.30" x2="366.20" y2="298.30" stroke="#555" stroke-width="0.9" />
<line x1="364.20" y1="308.50" x2="366.20" y2="308.50" stroke="#555" stroke-width="0.9" />
<line x1="364.80" y1="256.30" x2="365.60" y2="256.30" stroke="#999" stroke-width="0.5" />
<line x1="364.80" y1="260.30" x2="365.60" y2="260.30" stroke="#999" stroke-width="0.5" />
<line x1="364.80" y1="263.30" x2="365.60" y2="263.30" stroke="#999" stroke-width="0.5" />
<line x1="364.80" y1="265.30" x2="365.60" y2="265.30" stroke="#999" stroke-width="0.5" />
<line x1="364.80" y1="272.30" x2="365.60" y2="272.30" stroke="#999" stroke-width="0.5" />
<line x1="364.80" y1="276.30" x2="365.60" y2="276.30" stroke="#999" stroke-width="0.5" />
<line x1="364.80" y1="279.30" x2="365.60" y2="279.30" stroke="#999" stroke-width="0.5" />
<line x1="364.80" y1="281.30" x2="365.60" y2="281.30" stroke="#999" stroke-width="0.5" />
<line x1="364.80" y1="290.30" x2="365.60" y2="290.30" stroke="#999" stroke-width="0.5" />
<line x1="364.80" y1="293.30" x2="365.60" y2="293.30" stroke="#999" stroke-width="0.5" />
<line x1="369.10" y1="312.50" x2="369.10" y2="314.30" stroke="#555" stroke-width="0.9" />
<line x1="379.60" y1="312.50" x2="379.60" y2="314.30" stroke="#555" stroke-width="0.9" />
<line x1="391.20" y1="312.50" x2="391.20" y2="314.30" stroke="#555" stroke-width="0.9" />
<line x1="409.20" y1="312.50" x2="409.20" y2="314.30" stroke="#555" stroke-width="0.9" />
<line x1="425.20" y1="312.50" x2="425.20" y2="314.30" stroke="#555" stroke-width="0.9" />
<g filter="url(#blur07)">
<path d="M380.60,258.50 C387.60,256.90 405.60,256.90 411.80,259.50 L412.80,276.30 C411.60,286.30 410.60,294.30 408.60,298.90 L380.80,299.30 C379.80,286.30 379.80,271.30 380.60,258.50 Z" fill="#3a54f4" fill-opacity="0.82"/>
</g>
<g filter="url(#blur2)">
<ellipse cx="394.60" cy="269.30" rx="14" ry="10" fill="#1a36f0" fill-opacity="0.7"/>
<ellipse cx="392.60" cy="286.30" rx="10" ry="8" fill="#2a44f0" fill-opacity="0.4"/>
</g>
<rect x="377.60" y="279.30" width="37" height="22" fill="url(#wfade)" filter="url(#blur1)"/>
<rect x="376.60" y="255.30" width="39" height="47" fill="#fff" filter="url(#speck)" opacity="0.55"/>
<ellipse cx="398.60" cy="269.30" rx="13.0" ry="9.0" fill="url(#gB)" fill-opacity="0.45"/>
<ellipse cx="385.40" cy="266.50" rx="5.87" ry="13.07" fill="url(#gR)"/>
<ellipse cx="393.40" cy="270.30" rx="2.86" ry="5.14" fill="url(#gG)"/>
<ellipse cx="402.20" cy="269.30" rx="7.57" ry="8.38" fill="url(#gc)"/>
<ellipse cx="400.60" cy="295.30" rx="2.88" ry="2.00" fill="url(#gS)"/>
<ellipse cx="380.80" cy="297.90" rx="1.60" ry="1.60" fill="url(#gG)"/>
<rect x="375.30" y="255.70" width="41.0" height="44.9" fill="none" stroke="#909090" stroke-width="0.8"/>
<line x1="389.80" y1="255.70" x2="389.80" y2="287.20" stroke="#20242e" stroke-width="1.15" />
<line x1="397.10" y1="255.70" x2="397.10" y2="276.80" stroke="#20242e" stroke-width="1.15" />
<line x1="397.10" y1="276.80" x2="416.30" y2="276.80" stroke="#5a5a5a" stroke-width="1.0" />
<line x1="375.30" y1="287.20" x2="416.30" y2="287.20" stroke="#5a5a5a" stroke-width="1.0" />
<line x1="395.30" y1="287.20" x2="395.30" y2="300.60" stroke="#20242e" stroke-width="1.15" />
<text x="370.70000000000005" y="253.3" font-size="4.3" text-anchor="middle" fill="#5a5a5a" style="stroke:#5a5a5a" class="ns">S1</text>
<text x="370.90000000000003" y="257.90000000000003" font-size="4.3" text-anchor="middle" fill="#5a5a5a" style="stroke:#5a5a5a" class="ns">65.8</text>
<text x="391.6" y="253.3" font-size="4.3" text-anchor="middle" fill="#5a5a5a" style="stroke:#5a5a5a" class="ns">S2</text>
<text x="392.20000000000005" y="257.90000000000003" font-size="4.3" text-anchor="middle" fill="#5a5a5a" style="stroke:#5a5a5a" class="ns">8.48</text>
<text x="426.0" y="253.3" font-size="4.3" text-anchor="middle" fill="#5a5a5a" style="stroke:#5a5a5a" class="ns">S3</text>
<text x="426.0" y="257.90000000000003" font-size="4.3" text-anchor="middle" fill="#5a5a5a" style="stroke:#5a5a5a" class="ns">12.1</text>
<text x="426.0" y="281.5" font-size="4.3" text-anchor="middle" fill="#5a5a5a" style="stroke:#5a5a5a" class="ns">S4</text>
<text x="426.0" y="286.1" font-size="4.3" text-anchor="middle" fill="#5a5a5a" style="stroke:#5a5a5a" class="ns">2.54</text>
<text x="370.70000000000005" y="304.90000000000003" font-size="4.3" text-anchor="middle" fill="#5a5a5a" style="stroke:#5a5a5a" class="ns">S0</text>
<text x="370.90000000000003" y="309.5" font-size="4.3" text-anchor="middle" fill="#5a5a5a" style="stroke:#5a5a5a" class="ns">3.63</text>
<text x="426.0" y="304.90000000000003" font-size="4.3" text-anchor="middle" fill="#5a5a5a" style="stroke:#5a5a5a" class="ns">S5</text>
<text x="426.0" y="309.5" font-size="4.3" text-anchor="middle" fill="#5a5a5a" style="stroke:#5a5a5a" class="ns">2.45</text>
<ellipse cx="364.70" cy="297.60" rx="0.9" ry="1.4" fill="#000"/>
<ellipse cx="379.60" cy="313.90" rx="1.6" ry="0.8" fill="#000"/>
<text x="358.00" y="254.80" font-size="5.5" text-anchor="end" fill="#2a2a2a" style="stroke-width:0.12px">10</text>
<text x="358.00" y="270.40" font-size="5.5" text-anchor="end" fill="#2a2a2a" style="stroke-width:0.12px">10</text>
<text x="358.00" y="288.40" font-size="5.5" text-anchor="end" fill="#2a2a2a" style="stroke-width:0.12px">10</text>
<text x="358.20" y="252.70" font-size="3.2" fill="#222" class="ns">5</text>
<text x="358.20" y="268.30" font-size="3.2" fill="#222" class="ns">4</text>
<text x="358.20" y="286.30" font-size="3.2" fill="#222" class="ns">3</text>
<text x="358.00" y="300.20" font-size="5.5" text-anchor="end" fill="#2a2a2a" style="stroke-width:0.12px">0</text>
<text x="358.00" y="310.40" font-size="5.5" text-anchor="end" fill="#2a2a2a" style="stroke-width:0.12px">-10</text>
<text x="358.20" y="308.30" font-size="3.2" fill="#222" class="ns">3</text>
<text x="369.10" y="322.90" font-size="5.5" text-anchor="middle" fill="#2a2a2a" style="stroke-width:0.12px">-10</text>
<text x="372.90" y="320.90" font-size="3.2" fill="#222" class="ns">3</text>
<text x="379.60" y="322.90" font-size="5.5" text-anchor="middle" fill="#2a2a2a" style="stroke-width:0.12px">0</text>
<text x="391.20" y="322.90" font-size="5.5" text-anchor="middle" fill="#2a2a2a" style="stroke-width:0.12px">10</text>
<text x="394.10" y="320.90" font-size="3.2" fill="#222" class="ns">3</text>
<text x="409.20" y="322.90" font-size="5.5" text-anchor="middle" fill="#2a2a2a" style="stroke-width:0.12px">10</text>
<text x="412.10" y="320.90" font-size="3.2" fill="#222" class="ns">4</text>
<text x="425.20" y="322.90" font-size="5.5" text-anchor="middle" fill="#2a2a2a" style="stroke-width:0.12px">10</text>
<text x="428.10" y="320.90" font-size="3.2" fill="#222" class="ns">5</text>
<rect x="278.80" y="329.60" width="66.6" height="66.8" fill="#fff" stroke="#b4b4b4" stroke-width="0.9"/>
<line x1="277.40" y1="336.20" x2="279.40" y2="336.20" stroke="#555" stroke-width="0.9" />
<line x1="277.40" y1="351.80" x2="279.40" y2="351.80" stroke="#555" stroke-width="0.9" />
<line x1="277.40" y1="369.80" x2="279.40" y2="369.80" stroke="#555" stroke-width="0.9" />
<line x1="277.40" y1="381.60" x2="279.40" y2="381.60" stroke="#555" stroke-width="0.9" />
<line x1="277.40" y1="391.80" x2="279.40" y2="391.80" stroke="#555" stroke-width="0.9" />
<line x1="278.00" y1="339.60" x2="278.80" y2="339.60" stroke="#999" stroke-width="0.5" />
<line x1="278.00" y1="343.60" x2="278.80" y2="343.60" stroke="#999" stroke-width="0.5" />
<line x1="278.00" y1="346.60" x2="278.80" y2="346.60" stroke="#999" stroke-width="0.5" />
<line x1="278.00" y1="348.60" x2="278.80" y2="348.60" stroke="#999" stroke-width="0.5" />
<line x1="278.00" y1="355.60" x2="278.80" y2="355.60" stroke="#999" stroke-width="0.5" />
<line x1="278.00" y1="359.60" x2="278.80" y2="359.60" stroke="#999" stroke-width="0.5" />
<line x1="278.00" y1="362.60" x2="278.80" y2="362.60" stroke="#999" stroke-width="0.5" />
<line x1="278.00" y1="364.60" x2="278.80" y2="364.60" stroke="#999" stroke-width="0.5" />
<line x1="278.00" y1="373.60" x2="278.80" y2="373.60" stroke="#999" stroke-width="0.5" />
<line x1="278.00" y1="376.60" x2="278.80" y2="376.60" stroke="#999" stroke-width="0.5" />
<line x1="282.30" y1="395.80" x2="282.30" y2="397.60" stroke="#555" stroke-width="0.9" />
<line x1="292.80" y1="395.80" x2="292.80" y2="397.60" stroke="#555" stroke-width="0.9" />
<line x1="304.40" y1="395.80" x2="304.40" y2="397.60" stroke="#555" stroke-width="0.9" />
<line x1="322.40" y1="395.80" x2="322.40" y2="397.60" stroke="#555" stroke-width="0.9" />
<line x1="338.40" y1="395.80" x2="338.40" y2="397.60" stroke="#555" stroke-width="0.9" />
<g filter="url(#blur07)">
<path d="M293.80,341.80 C300.80,340.20 318.80,340.20 325.00,342.80 L326.00,359.60 C324.80,369.60 323.80,377.60 321.80,382.20 L294.00,382.60 C293.00,369.60 293.00,354.60 293.80,341.80 Z" fill="#3a54f4" fill-opacity="0.82"/>
</g>
<g filter="url(#blur2)">
<ellipse cx="307.80" cy="352.60" rx="14" ry="10" fill="#1a36f0" fill-opacity="0.7"/>
<ellipse cx="305.80" cy="369.60" rx="10" ry="8" fill="#2a44f0" fill-opacity="0.4"/>
</g>
<rect x="290.80" y="362.60" width="37" height="22" fill="url(#wfade)" filter="url(#blur1)"/>
<rect x="289.80" y="338.60" width="39" height="47" fill="#fff" filter="url(#speck)" opacity="0.55"/>
<ellipse cx="307.80" cy="352.60" rx="17.0" ry="10.5" fill="url(#gB)" fill-opacity="0.8"/>
<ellipse cx="297.60" cy="350.40" rx="5.73" ry="9.33" fill="url(#gy)"/>
<ellipse cx="306.60" cy="353.00" rx="4.57" ry="9.43" fill="url(#gG)"/>
<ellipse cx="314.20" cy="353.20" rx="7.84" ry="10.00" fill="url(#gr)"/>
<ellipse cx="313.80" cy="379.20" rx="5.40" ry="3.20" fill="url(#gS)"/>
<ellipse cx="294.00" cy="381.20" rx="1.60" ry="1.60" fill="url(#gG)"/>
<rect x="288.50" y="339.00" width="41.0" height="44.9" fill="none" stroke="#909090" stroke-width="0.8"/>
<line x1="303.00" y1="339.00" x2="303.00" y2="370.50" stroke="#20242e" stroke-width="1.15" />
<line x1="310.30" y1="339.00" x2="310.30" y2="360.10" stroke="#20242e" stroke-width="1.15" />
<line x1="310.30" y1="360.10" x2="329.50" y2="360.10" stroke="#5a5a5a" stroke-width="1.0" />
<line x1="288.50" y1="370.50" x2="329.50" y2="370.50" stroke="#5a5a5a" stroke-width="1.0" />
<line x1="308.50" y1="370.50" x2="308.50" y2="383.90" stroke="#20242e" stroke-width="1.15" />
<text x="283.90000000000003" y="336.6" font-size="4.3" text-anchor="middle" fill="#5a5a5a" style="stroke:#5a5a5a" class="ns">S1</text>
<text x="284.1" y="341.20000000000005" font-size="4.3" text-anchor="middle" fill="#5a5a5a" style="stroke:#5a5a5a" class="ns">19.9</text>
<text x="304.8" y="336.6" font-size="4.3" text-anchor="middle" fill="#5a5a5a" style="stroke:#5a5a5a" class="ns">S2</text>
<text x="305.40000000000003" y="341.20000000000005" font-size="4.3" text-anchor="middle" fill="#5a5a5a" style="stroke:#5a5a5a" class="ns">13.8</text>
<text x="339.2" y="336.6" font-size="4.3" text-anchor="middle" fill="#5a5a5a" style="stroke:#5a5a5a" class="ns">S3</text>
<text x="339.2" y="341.20000000000005" font-size="4.3" text-anchor="middle" fill="#5a5a5a" style="stroke:#5a5a5a" class="ns">40.2</text>
<text x="339.2" y="364.8" font-size="4.3" text-anchor="middle" fill="#5a5a5a" style="stroke:#5a5a5a" class="ns">S4</text>
<text x="339.2" y="369.40000000000003" font-size="4.3" text-anchor="middle" fill="#5a5a5a" style="stroke:#5a5a5a" class="ns">6.21</text>
<text x="283.90000000000003" y="388.20000000000005" font-size="4.3" text-anchor="middle" fill="#5a5a5a" style="stroke:#5a5a5a" class="ns">S0</text>
<text x="284.1" y="392.8" font-size="4.3" text-anchor="middle" fill="#5a5a5a" style="stroke:#5a5a5a" class="ns">5.55</text>
<text x="339.2" y="388.20000000000005" font-size="4.3" text-anchor="middle" fill="#5a5a5a" style="stroke:#5a5a5a" class="ns">S5</text>
<text x="339.2" y="392.8" font-size="4.3" text-anchor="middle" fill="#5a5a5a" style="stroke:#5a5a5a" class="ns">5.27</text>
<ellipse cx="277.90" cy="380.90" rx="0.9" ry="1.4" fill="#000"/>
<ellipse cx="292.80" cy="397.20" rx="1.6" ry="0.8" fill="#000"/>
<text x="271.20" y="338.10" font-size="5.5" text-anchor="end" fill="#2a2a2a" style="stroke-width:0.12px">10</text>
<text x="271.20" y="353.70" font-size="5.5" text-anchor="end" fill="#2a2a2a" style="stroke-width:0.12px">10</text>
<text x="271.20" y="371.70" font-size="5.5" text-anchor="end" fill="#2a2a2a" style="stroke-width:0.12px">10</text>
<text x="271.40" y="336.00" font-size="3.2" fill="#222" class="ns">5</text>
<text x="271.40" y="351.60" font-size="3.2" fill="#222" class="ns">4</text>
<text x="271.40" y="369.60" font-size="3.2" fill="#222" class="ns">3</text>
<text x="271.20" y="383.50" font-size="5.5" text-anchor="end" fill="#2a2a2a" style="stroke-width:0.12px">0</text>
<text x="271.20" y="393.70" font-size="5.5" text-anchor="end" fill="#2a2a2a" style="stroke-width:0.12px">-10</text>
<text x="271.40" y="391.60" font-size="3.2" fill="#222" class="ns">3</text>
<text x="282.30" y="406.20" font-size="5.5" text-anchor="middle" fill="#2a2a2a" style="stroke-width:0.12px">-10</text>
<text x="286.10" y="404.20" font-size="3.2" fill="#222" class="ns">3</text>
<text x="292.80" y="406.20" font-size="5.5" text-anchor="middle" fill="#2a2a2a" style="stroke-width:0.12px">0</text>
<text x="304.40" y="406.20" font-size="5.5" text-anchor="middle" fill="#2a2a2a" style="stroke-width:0.12px">10</text>
<text x="307.30" y="404.20" font-size="3.2" fill="#222" class="ns">3</text>
<text x="322.40" y="406.20" font-size="5.5" text-anchor="middle" fill="#2a2a2a" style="stroke-width:0.12px">10</text>
<text x="325.30" y="404.20" font-size="3.2" fill="#222" class="ns">4</text>
<text x="338.40" y="406.20" font-size="5.5" text-anchor="middle" fill="#2a2a2a" style="stroke-width:0.12px">10</text>
<text x="341.30" y="404.20" font-size="3.2" fill="#222" class="ns">5</text>
<rect x="365.60" y="329.60" width="66.6" height="66.8" fill="#fff" stroke="#b4b4b4" stroke-width="0.9"/>
<line x1="364.20" y1="336.20" x2="366.20" y2="336.20" stroke="#555" stroke-width="0.9" />
<line x1="364.20" y1="351.80" x2="366.20" y2="351.80" stroke="#555" stroke-width="0.9" />
<line x1="364.20" y1="369.80" x2="366.20" y2="369.80" stroke="#555" stroke-width="0.9" />
<line x1="364.20" y1="381.60" x2="366.20" y2="381.60" stroke="#555" stroke-width="0.9" />
<line x1="364.20" y1="391.80" x2="366.20" y2="391.80" stroke="#555" stroke-width="0.9" />
<line x1="364.80" y1="339.60" x2="365.60" y2="339.60" stroke="#999" stroke-width="0.5" />
<line x1="364.80" y1="343.60" x2="365.60" y2="343.60" stroke="#999" stroke-width="0.5" />
<line x1="364.80" y1="346.60" x2="365.60" y2="346.60" stroke="#999" stroke-width="0.5" />
<line x1="364.80" y1="348.60" x2="365.60" y2="348.60" stroke="#999" stroke-width="0.5" />
<line x1="364.80" y1="355.60" x2="365.60" y2="355.60" stroke="#999" stroke-width="0.5" />
<line x1="364.80" y1="359.60" x2="365.60" y2="359.60" stroke="#999" stroke-width="0.5" />
<line x1="364.80" y1="362.60" x2="365.60" y2="362.60" stroke="#999" stroke-width="0.5" />
<line x1="364.80" y1="364.60" x2="365.60" y2="364.60" stroke="#999" stroke-width="0.5" />
<line x1="364.80" y1="373.60" x2="365.60" y2="373.60" stroke="#999" stroke-width="0.5" />
<line x1="364.80" y1="376.60" x2="365.60" y2="376.60" stroke="#999" stroke-width="0.5" />
<line x1="369.10" y1="395.80" x2="369.10" y2="397.60" stroke="#555" stroke-width="0.9" />
<line x1="379.60" y1="395.80" x2="379.60" y2="397.60" stroke="#555" stroke-width="0.9" />
<line x1="391.20" y1="395.80" x2="391.20" y2="397.60" stroke="#555" stroke-width="0.9" />
<line x1="409.20" y1="395.80" x2="409.20" y2="397.60" stroke="#555" stroke-width="0.9" />
<line x1="425.20" y1="395.80" x2="425.20" y2="397.60" stroke="#555" stroke-width="0.9" />
<g filter="url(#blur07)">
<path d="M380.60,341.80 C387.60,340.20 405.60,340.20 411.80,342.80 L412.80,359.60 C411.60,369.60 410.60,377.60 408.60,382.20 L380.80,382.60 C379.80,369.60 379.80,354.60 380.60,341.80 Z" fill="#3a54f4" fill-opacity="0.82"/>
</g>
<g filter="url(#blur2)">
<ellipse cx="394.60" cy="352.60" rx="14" ry="10" fill="#1a36f0" fill-opacity="0.7"/>
<ellipse cx="392.60" cy="369.60" rx="10" ry="8" fill="#2a44f0" fill-opacity="0.4"/>
</g>
<rect x="377.60" y="362.60" width="37" height="22" fill="url(#wfade)" filter="url(#blur1)"/>
<rect x="376.60" y="338.60" width="39" height="47" fill="#fff" filter="url(#speck)" opacity="0.55"/>
<ellipse cx="394.60" cy="352.60" rx="17.0" ry="10.5" fill="url(#gB)" fill-opacity="0.8"/>
<ellipse cx="384.80" cy="350.60" rx="5.73" ry="8.40" fill="url(#gy)"/>
<ellipse cx="393.80" cy="354.20" rx="4.57" ry="8.86" fill="url(#gG)"/>
<ellipse cx="401.60" cy="353.20" rx="7.84" ry="9.73" fill="url(#gr)"/>
<ellipse cx="400.60" cy="379.00" rx="5.40" ry="3.20" fill="url(#gS)"/>
<ellipse cx="380.80" cy="381.20" rx="1.60" ry="1.60" fill="url(#gG)"/>
<rect x="375.30" y="339.00" width="41.0" height="44.9" fill="none" stroke="#909090" stroke-width="0.8"/>
<line x1="389.80" y1="339.00" x2="389.80" y2="370.50" stroke="#20242e" stroke-width="1.15" />
<line x1="397.10" y1="339.00" x2="397.10" y2="360.10" stroke="#20242e" stroke-width="1.15" />
<line x1="397.10" y1="360.10" x2="416.30" y2="360.10" stroke="#5a5a5a" stroke-width="1.0" />
<line x1="375.30" y1="370.50" x2="416.30" y2="370.50" stroke="#5a5a5a" stroke-width="1.0" />
<line x1="395.30" y1="370.50" x2="395.30" y2="383.90" stroke="#20242e" stroke-width="1.15" />
<text x="370.70000000000005" y="336.6" font-size="4.3" text-anchor="middle" fill="#5a5a5a" style="stroke:#5a5a5a" class="ns">S1</text>
<text x="370.90000000000003" y="341.20000000000005" font-size="4.3" text-anchor="middle" fill="#5a5a5a" style="stroke:#5a5a5a" class="ns">20.5</text>
<text x="391.6" y="336.6" font-size="4.3" text-anchor="middle" fill="#5a5a5a" style="stroke:#5a5a5a" class="ns">S2</text>
<text x="392.20000000000005" y="341.20000000000005" font-size="4.3" text-anchor="middle" fill="#5a5a5a" style="stroke:#5a5a5a" class="ns">13.8</text>
<text x="426.0" y="336.6" font-size="4.3" text-anchor="middle" fill="#5a5a5a" style="stroke:#5a5a5a" class="ns">S3</text>
<text x="426.0" y="341.20000000000005" font-size="4.3" text-anchor="middle" fill="#5a5a5a" style="stroke:#5a5a5a" class="ns">40.9</text>
<text x="426.0" y="364.8" font-size="4.3" text-anchor="middle" fill="#5a5a5a" style="stroke:#5a5a5a" class="ns">S4</text>
<text x="426.0" y="369.40000000000003" font-size="4.3" text-anchor="middle" fill="#5a5a5a" style="stroke:#5a5a5a" class="ns">5.89</text>
<text x="370.70000000000005" y="388.20000000000005" font-size="4.3" text-anchor="middle" fill="#5a5a5a" style="stroke:#5a5a5a" class="ns">S0</text>
<text x="370.90000000000003" y="392.8" font-size="4.3" text-anchor="middle" fill="#5a5a5a" style="stroke:#5a5a5a" class="ns">3.87</text>
<text x="426.0" y="388.20000000000005" font-size="4.3" text-anchor="middle" fill="#5a5a5a" style="stroke:#5a5a5a" class="ns">S5</text>
<text x="426.0" y="392.8" font-size="4.3" text-anchor="middle" fill="#5a5a5a" style="stroke:#5a5a5a" class="ns">4.90</text>
<ellipse cx="364.70" cy="380.90" rx="0.9" ry="1.4" fill="#000"/>
<ellipse cx="379.60" cy="397.20" rx="1.6" ry="0.8" fill="#000"/>
<text x="358.00" y="338.10" font-size="5.5" text-anchor="end" fill="#2a2a2a" style="stroke-width:0.12px">10</text>
<text x="358.00" y="353.70" font-size="5.5" text-anchor="end" fill="#2a2a2a" style="stroke-width:0.12px">10</text>
<text x="358.00" y="371.70" font-size="5.5" text-anchor="end" fill="#2a2a2a" style="stroke-width:0.12px">10</text>
<text x="358.20" y="336.00" font-size="3.2" fill="#222" class="ns">5</text>
<text x="358.20" y="351.60" font-size="3.2" fill="#222" class="ns">4</text>
<text x="358.20" y="369.60" font-size="3.2" fill="#222" class="ns">3</text>
<text x="358.00" y="383.50" font-size="5.5" text-anchor="end" fill="#2a2a2a" style="stroke-width:0.12px">0</text>
<text x="358.00" y="393.70" font-size="5.5" text-anchor="end" fill="#2a2a2a" style="stroke-width:0.12px">-10</text>
<text x="358.20" y="391.60" font-size="3.2" fill="#222" class="ns">3</text>
<text x="369.10" y="406.20" font-size="5.5" text-anchor="middle" fill="#2a2a2a" style="stroke-width:0.12px">-10</text>
<text x="372.90" y="404.20" font-size="3.2" fill="#222" class="ns">3</text>
<text x="379.60" y="406.20" font-size="5.5" text-anchor="middle" fill="#2a2a2a" style="stroke-width:0.12px">0</text>
<text x="391.20" y="406.20" font-size="5.5" text-anchor="middle" fill="#2a2a2a" style="stroke-width:0.12px">10</text>
<text x="394.10" y="404.20" font-size="3.2" fill="#222" class="ns">3</text>
<text x="409.20" y="406.20" font-size="5.5" text-anchor="middle" fill="#2a2a2a" style="stroke-width:0.12px">10</text>
<text x="412.10" y="404.20" font-size="3.2" fill="#222" class="ns">4</text>
<text x="425.20" y="406.20" font-size="5.5" text-anchor="middle" fill="#2a2a2a" style="stroke-width:0.12px">10</text>
<text x="428.10" y="404.20" font-size="3.2" fill="#222" class="ns">5</text>
<rect x="278.80" y="412.90" width="66.6" height="66.8" fill="#fff" stroke="#b4b4b4" stroke-width="0.9"/>
<line x1="277.40" y1="419.50" x2="279.40" y2="419.50" stroke="#555" stroke-width="0.9" />
<line x1="277.40" y1="435.10" x2="279.40" y2="435.10" stroke="#555" stroke-width="0.9" />
<line x1="277.40" y1="453.10" x2="279.40" y2="453.10" stroke="#555" stroke-width="0.9" />
<line x1="277.40" y1="464.90" x2="279.40" y2="464.90" stroke="#555" stroke-width="0.9" />
<line x1="277.40" y1="475.10" x2="279.40" y2="475.10" stroke="#555" stroke-width="0.9" />
<line x1="278.00" y1="422.90" x2="278.80" y2="422.90" stroke="#999" stroke-width="0.5" />
<line x1="278.00" y1="426.90" x2="278.80" y2="426.90" stroke="#999" stroke-width="0.5" />
<line x1="278.00" y1="429.90" x2="278.80" y2="429.90" stroke="#999" stroke-width="0.5" />
<line x1="278.00" y1="431.90" x2="278.80" y2="431.90" stroke="#999" stroke-width="0.5" />
<line x1="278.00" y1="438.90" x2="278.80" y2="438.90" stroke="#999" stroke-width="0.5" />
<line x1="278.00" y1="442.90" x2="278.80" y2="442.90" stroke="#999" stroke-width="0.5" />
<line x1="278.00" y1="445.90" x2="278.80" y2="445.90" stroke="#999" stroke-width="0.5" />
<line x1="278.00" y1="447.90" x2="278.80" y2="447.90" stroke="#999" stroke-width="0.5" />
<line x1="278.00" y1="456.90" x2="278.80" y2="456.90" stroke="#999" stroke-width="0.5" />
<line x1="278.00" y1="459.90" x2="278.80" y2="459.90" stroke="#999" stroke-width="0.5" />
<line x1="282.30" y1="479.10" x2="282.30" y2="480.90" stroke="#555" stroke-width="0.9" />
<line x1="292.80" y1="479.10" x2="292.80" y2="480.90" stroke="#555" stroke-width="0.9" />
<line x1="304.40" y1="479.10" x2="304.40" y2="480.90" stroke="#555" stroke-width="0.9" />
<line x1="322.40" y1="479.10" x2="322.40" y2="480.90" stroke="#555" stroke-width="0.9" />
<line x1="338.40" y1="479.10" x2="338.40" y2="480.90" stroke="#555" stroke-width="0.9" />
<g filter="url(#blur07)">
<path d="M293.80,425.10 C300.80,423.50 318.80,423.50 325.00,426.10 L326.00,442.90 C324.80,452.90 323.80,460.90 321.80,465.50 L294.00,465.90 C293.00,452.90 293.00,437.90 293.80,425.10 Z" fill="#3a54f4" fill-opacity="0.82"/>
</g>
<g filter="url(#blur2)">
<ellipse cx="307.80" cy="435.90" rx="14" ry="10" fill="#1a36f0" fill-opacity="0.7"/>
<ellipse cx="305.80" cy="452.90" rx="10" ry="8" fill="#2a44f0" fill-opacity="0.4"/>
</g>
<rect x="290.80" y="445.90" width="37" height="22" fill="url(#wfade)" filter="url(#blur1)"/>
<rect x="289.80" y="421.90" width="39" height="47" fill="#fff" filter="url(#speck)" opacity="0.55"/>
<ellipse cx="307.80" cy="435.90" rx="17.0" ry="10.5" fill="url(#gB)" fill-opacity="0.8"/>
<ellipse cx="296.80" cy="433.10" rx="5.47" ry="8.00" fill="url(#gy)"/>
<ellipse cx="307.00" cy="435.90" rx="4.57" ry="9.14" fill="url(#gG)"/>
<ellipse cx="313.80" cy="434.70" rx="8.65" ry="10.54" fill="url(#gr)"/>
<ellipse cx="313.80" cy="461.50" rx="5.40" ry="3.20" fill="url(#gS)"/>
<ellipse cx="294.00" cy="464.50" rx="1.60" ry="1.60" fill="url(#gG)"/>
<rect x="288.50" y="422.30" width="41.0" height="44.9" fill="none" stroke="#909090" stroke-width="0.8"/>
<line x1="303.00" y1="422.30" x2="303.00" y2="453.80" stroke="#20242e" stroke-width="1.15" />
<line x1="310.30" y1="422.30" x2="310.30" y2="443.40" stroke="#20242e" stroke-width="1.15" />
<line x1="310.30" y1="443.40" x2="329.50" y2="443.40" stroke="#5a5a5a" stroke-width="1.0" />
<line x1="288.50" y1="453.80" x2="329.50" y2="453.80" stroke="#5a5a5a" stroke-width="1.0" />
<line x1="308.50" y1="453.80" x2="308.50" y2="467.20" stroke="#20242e" stroke-width="1.15" />
<text x="283.90000000000003" y="419.9" font-size="4.3" text-anchor="middle" fill="#5a5a5a" style="stroke:#5a5a5a" class="ns">S1</text>
<text x="284.1" y="424.5" font-size="4.3" text-anchor="middle" fill="#5a5a5a" style="stroke:#5a5a5a" class="ns">16.2</text>
<text x="304.8" y="419.9" font-size="4.3" text-anchor="middle" fill="#5a5a5a" style="stroke:#5a5a5a" class="ns">S2</text>
<text x="305.40000000000003" y="424.5" font-size="4.3" text-anchor="middle" fill="#5a5a5a" style="stroke:#5a5a5a" class="ns">14.8</text>
<text x="339.2" y="419.9" font-size="4.3" text-anchor="middle" fill="#5a5a5a" style="stroke:#5a5a5a" class="ns">S3</text>
<text x="339.2" y="424.5" font-size="4.3" text-anchor="middle" fill="#5a5a5a" style="stroke:#5a5a5a" class="ns">48.0</text>
<text x="339.2" y="448.09999999999997" font-size="4.3" text-anchor="middle" fill="#5a5a5a" style="stroke:#5a5a5a" class="ns">S4</text>
<text x="339.2" y="452.7" font-size="4.3" text-anchor="middle" fill="#5a5a5a" style="stroke:#5a5a5a" class="ns">6.90</text>
<text x="283.90000000000003" y="471.5" font-size="4.3" text-anchor="middle" fill="#5a5a5a" style="stroke:#5a5a5a" class="ns">S0</text>
<text x="284.1" y="476.09999999999997" font-size="4.3" text-anchor="middle" fill="#5a5a5a" style="stroke:#5a5a5a" class="ns">3.29</text>
<text x="339.2" y="471.5" font-size="4.3" text-anchor="middle" fill="#5a5a5a" style="stroke:#5a5a5a" class="ns">S5</text>
<text x="339.2" y="476.09999999999997" font-size="4.3" text-anchor="middle" fill="#5a5a5a" style="stroke:#5a5a5a" class="ns">3.14</text>
<ellipse cx="277.90" cy="464.20" rx="0.9" ry="1.4" fill="#000"/>
<ellipse cx="292.80" cy="480.50" rx="1.6" ry="0.8" fill="#000"/>
<text x="271.20" y="421.40" font-size="5.5" text-anchor="end" fill="#2a2a2a" style="stroke-width:0.12px">10</text>
<text x="271.20" y="437.00" font-size="5.5" text-anchor="end" fill="#2a2a2a" style="stroke-width:0.12px">10</text>
<text x="271.20" y="455.00" font-size="5.5" text-anchor="end" fill="#2a2a2a" style="stroke-width:0.12px">10</text>
<text x="271.40" y="419.30" font-size="3.2" fill="#222" class="ns">5</text>
<text x="271.40" y="434.90" font-size="3.2" fill="#222" class="ns">4</text>
<text x="271.40" y="452.90" font-size="3.2" fill="#222" class="ns">3</text>
<text x="271.20" y="466.80" font-size="5.5" text-anchor="end" fill="#2a2a2a" style="stroke-width:0.12px">0</text>
<text x="271.20" y="477.00" font-size="5.5" text-anchor="end" fill="#2a2a2a" style="stroke-width:0.12px">-10</text>
<text x="271.40" y="474.90" font-size="3.2" fill="#222" class="ns">3</text>
<text x="282.30" y="489.50" font-size="5.5" text-anchor="middle" fill="#2a2a2a" style="stroke-width:0.12px">-10</text>
<text x="286.10" y="487.50" font-size="3.2" fill="#222" class="ns">3</text>
<text x="292.80" y="489.50" font-size="5.5" text-anchor="middle" fill="#2a2a2a" style="stroke-width:0.12px">0</text>
<text x="304.40" y="489.50" font-size="5.5" text-anchor="middle" fill="#2a2a2a" style="stroke-width:0.12px">10</text>
<text x="307.30" y="487.50" font-size="3.2" fill="#222" class="ns">3</text>
<text x="322.40" y="489.50" font-size="5.5" text-anchor="middle" fill="#2a2a2a" style="stroke-width:0.12px">10</text>
<text x="325.30" y="487.50" font-size="3.2" fill="#222" class="ns">4</text>
<text x="338.40" y="489.50" font-size="5.5" text-anchor="middle" fill="#2a2a2a" style="stroke-width:0.12px">10</text>
<text x="341.30" y="487.50" font-size="3.2" fill="#222" class="ns">5</text>
<rect x="365.60" y="412.90" width="66.6" height="66.8" fill="#fff" stroke="#b4b4b4" stroke-width="0.9"/>
<line x1="364.20" y1="419.50" x2="366.20" y2="419.50" stroke="#555" stroke-width="0.9" />
<line x1="364.20" y1="435.10" x2="366.20" y2="435.10" stroke="#555" stroke-width="0.9" />
<line x1="364.20" y1="453.10" x2="366.20" y2="453.10" stroke="#555" stroke-width="0.9" />
<line x1="364.20" y1="464.90" x2="366.20" y2="464.90" stroke="#555" stroke-width="0.9" />
<line x1="364.20" y1="475.10" x2="366.20" y2="475.10" stroke="#555" stroke-width="0.9" />
<line x1="364.80" y1="422.90" x2="365.60" y2="422.90" stroke="#999" stroke-width="0.5" />
<line x1="364.80" y1="426.90" x2="365.60" y2="426.90" stroke="#999" stroke-width="0.5" />
<line x1="364.80" y1="429.90" x2="365.60" y2="429.90" stroke="#999" stroke-width="0.5" />
<line x1="364.80" y1="431.90" x2="365.60" y2="431.90" stroke="#999" stroke-width="0.5" />
<line x1="364.80" y1="438.90" x2="365.60" y2="438.90" stroke="#999" stroke-width="0.5" />
<line x1="364.80" y1="442.90" x2="365.60" y2="442.90" stroke="#999" stroke-width="0.5" />
<line x1="364.80" y1="445.90" x2="365.60" y2="445.90" stroke="#999" stroke-width="0.5" />
<line x1="364.80" y1="447.90" x2="365.60" y2="447.90" stroke="#999" stroke-width="0.5" />
<line x1="364.80" y1="456.90" x2="365.60" y2="456.90" stroke="#999" stroke-width="0.5" />
<line x1="364.80" y1="459.90" x2="365.60" y2="459.90" stroke="#999" stroke-width="0.5" />
<line x1="369.10" y1="479.10" x2="369.10" y2="480.90" stroke="#555" stroke-width="0.9" />
<line x1="379.60" y1="479.10" x2="379.60" y2="480.90" stroke="#555" stroke-width="0.9" />
<line x1="391.20" y1="479.10" x2="391.20" y2="480.90" stroke="#555" stroke-width="0.9" />
<line x1="409.20" y1="479.10" x2="409.20" y2="480.90" stroke="#555" stroke-width="0.9" />
<line x1="425.20" y1="479.10" x2="425.20" y2="480.90" stroke="#555" stroke-width="0.9" />
<g filter="url(#blur07)">
<path d="M380.60,425.10 C387.60,423.50 405.60,423.50 411.80,426.10 L412.80,442.90 C411.60,452.90 410.60,460.90 408.60,465.50 L380.80,465.90 C379.80,452.90 379.80,437.90 380.60,425.10 Z" fill="#3a54f4" fill-opacity="0.82"/>
</g>
<g filter="url(#blur2)">
<ellipse cx="394.60" cy="435.90" rx="14" ry="10" fill="#1a36f0" fill-opacity="0.7"/>
<ellipse cx="392.60" cy="452.90" rx="10" ry="8" fill="#2a44f0" fill-opacity="0.4"/>
</g>
<rect x="377.60" y="445.90" width="37" height="22" fill="url(#wfade)" filter="url(#blur1)"/>
<rect x="376.60" y="421.90" width="39" height="47" fill="#fff" filter="url(#speck)" opacity="0.55"/>
<ellipse cx="394.60" cy="435.90" rx="17.0" ry="10.5" fill="url(#gB)" fill-opacity="0.8"/>
<ellipse cx="384.00" cy="433.90" rx="5.33" ry="8.80" fill="url(#gy)"/>
<ellipse cx="394.00" cy="437.10" rx="4.57" ry="8.86" fill="url(#gG)"/>
<ellipse cx="400.60" cy="435.90" rx="8.38" ry="10.27" fill="url(#gr)"/>
<ellipse cx="400.60" cy="461.50" rx="5.40" ry="3.20" fill="url(#gS)"/>
<ellipse cx="380.80" cy="464.50" rx="1.60" ry="1.60" fill="url(#gG)"/>
<rect x="375.30" y="422.30" width="41.0" height="44.9" fill="none" stroke="#909090" stroke-width="0.8"/>
<line x1="389.80" y1="422.30" x2="389.80" y2="453.80" stroke="#20242e" stroke-width="1.15" />
<line x1="397.10" y1="422.30" x2="397.10" y2="443.40" stroke="#20242e" stroke-width="1.15" />
<line x1="397.10" y1="443.40" x2="416.30" y2="443.40" stroke="#5a5a5a" stroke-width="1.0" />
<line x1="375.30" y1="453.80" x2="416.30" y2="453.80" stroke="#5a5a5a" stroke-width="1.0" />
<line x1="395.30" y1="453.80" x2="395.30" y2="467.20" stroke="#20242e" stroke-width="1.15" />
<text x="370.70000000000005" y="419.9" font-size="4.3" text-anchor="middle" fill="#5a5a5a" style="stroke:#5a5a5a" class="ns">S1</text>
<text x="370.90000000000003" y="424.5" font-size="4.3" text-anchor="middle" fill="#5a5a5a" style="stroke:#5a5a5a" class="ns">17.8</text>
<text x="391.6" y="419.9" font-size="4.3" text-anchor="middle" fill="#5a5a5a" style="stroke:#5a5a5a" class="ns">S2</text>
<text x="392.20000000000005" y="424.5" font-size="4.3" text-anchor="middle" fill="#5a5a5a" style="stroke:#5a5a5a" class="ns">17.8</text>
<text x="426.0" y="419.9" font-size="4.3" text-anchor="middle" fill="#5a5a5a" style="stroke:#5a5a5a" class="ns">S3</text>
<text x="426.0" y="424.5" font-size="4.3" text-anchor="middle" fill="#5a5a5a" style="stroke:#5a5a5a" class="ns">41.8</text>
<text x="426.0" y="448.09999999999997" font-size="4.3" text-anchor="middle" fill="#5a5a5a" style="stroke:#5a5a5a" class="ns">S4</text>
<text x="426.0" y="452.7" font-size="4.3" text-anchor="middle" fill="#5a5a5a" style="stroke:#5a5a5a" class="ns">7.19</text>
<text x="370.70000000000005" y="471.5" font-size="4.3" text-anchor="middle" fill="#5a5a5a" style="stroke:#5a5a5a" class="ns">S0</text>
<text x="370.90000000000003" y="476.09999999999997" font-size="4.3" text-anchor="middle" fill="#5a5a5a" style="stroke:#5a5a5a" class="ns">3.12</text>
<text x="426.0" y="471.5" font-size="4.3" text-anchor="middle" fill="#5a5a5a" style="stroke:#5a5a5a" class="ns">S5</text>
<text x="426.0" y="476.09999999999997" font-size="4.3" text-anchor="middle" fill="#5a5a5a" style="stroke:#5a5a5a" class="ns">2.85</text>
<ellipse cx="364.70" cy="464.20" rx="0.9" ry="1.4" fill="#000"/>
<ellipse cx="379.60" cy="480.50" rx="1.6" ry="0.8" fill="#000"/>
<text x="358.00" y="421.40" font-size="5.5" text-anchor="end" fill="#2a2a2a" style="stroke-width:0.12px">10</text>
<text x="358.00" y="437.00" font-size="5.5" text-anchor="end" fill="#2a2a2a" style="stroke-width:0.12px">10</text>
<text x="358.00" y="455.00" font-size="5.5" text-anchor="end" fill="#2a2a2a" style="stroke-width:0.12px">10</text>
<text x="358.20" y="419.30" font-size="3.2" fill="#222" class="ns">5</text>
<text x="358.20" y="434.90" font-size="3.2" fill="#222" class="ns">4</text>
<text x="358.20" y="452.90" font-size="3.2" fill="#222" class="ns">3</text>
<text x="358.00" y="466.80" font-size="5.5" text-anchor="end" fill="#2a2a2a" style="stroke-width:0.12px">0</text>
<text x="358.00" y="477.00" font-size="5.5" text-anchor="end" fill="#2a2a2a" style="stroke-width:0.12px">-10</text>
<text x="358.20" y="474.90" font-size="3.2" fill="#222" class="ns">3</text>
<text x="369.10" y="489.50" font-size="5.5" text-anchor="middle" fill="#2a2a2a" style="stroke-width:0.12px">-10</text>
<text x="372.90" y="487.50" font-size="3.2" fill="#222" class="ns">3</text>
<text x="379.60" y="489.50" font-size="5.5" text-anchor="middle" fill="#2a2a2a" style="stroke-width:0.12px">0</text>
<text x="391.20" y="489.50" font-size="5.5" text-anchor="middle" fill="#2a2a2a" style="stroke-width:0.12px">10</text>
<text x="394.10" y="487.50" font-size="3.2" fill="#222" class="ns">3</text>
<text x="409.20" y="489.50" font-size="5.5" text-anchor="middle" fill="#2a2a2a" style="stroke-width:0.12px">10</text>
<text x="412.10" y="487.50" font-size="3.2" fill="#222" class="ns">4</text>
<text x="425.20" y="489.50" font-size="5.5" text-anchor="middle" fill="#2a2a2a" style="stroke-width:0.12px">10</text>
<text x="428.10" y="487.50" font-size="3.2" fill="#222" class="ns">5</text>
<text transform="translate(260.8,196.9) rotate(-90)" font-size="8.4" text-anchor="middle" fill="#222" textLength="11" lengthAdjust="spacingAndGlyphs">WT</text>
<text transform="translate(261.6,279.1) rotate(-90)" font-size="8.4" text-anchor="middle" fill="#222" font-style="italic">Mcl1<tspan font-size="5.2" dy="-3.2">F/F</tspan></text>
<text transform="translate(261.6,366.0) rotate(-90)" font-size="8.4" text-anchor="middle" fill="#222" font-style="italic">Bax<tspan font-size="5.2" dy="-3.2">F/F</tspan><tspan dy="3.2"> Bak</tspan><tspan font-size="5.2" dy="-3.2">–/–</tspan></text>
<text transform="translate(252.0,447.4) rotate(-90)" font-size="8.4" text-anchor="middle" fill="#222" font-style="italic">Mcl1<tspan font-size="5.2" dy="-3.2">F/F</tspan><tspan dy="3.2"> Bax</tspan><tspan font-size="5.2" dy="-3.2">F/F</tspan></text>
<text transform="translate(261.6,446.6) rotate(-90)" font-size="8.4" text-anchor="middle" fill="#222" font-style="italic">Bak<tspan font-size="5.2" dy="-3.2">–/–</tspan></text>
<line x1="452.60" y1="467.20" x2="452.60" y2="447.00" stroke="#000" stroke-width="1.2" />
<line x1="452.00" y1="467.20" x2="473.00" y2="467.20" stroke="#000" stroke-width="1.2" />
<path d="M452.6,441.6 L455.9,448.6 L452.6,447.4 L449.3,448.6 Z" fill="#000"/>
<path d="M478.6,467.2 L471.6,463.9 L472.8,467.2 L471.6,470.5 Z" fill="#000"/>
<text transform="translate(447.4,454.4) rotate(-90)" font-size="8.2" text-anchor="middle" fill="#222" textLength="17.5" lengthAdjust="spacingAndGlyphs">CD71</text>
<text x="465.8" y="477.9" font-size="8.2" text-anchor="middle" textLength="23.2" lengthAdjust="spacingAndGlyphs">Ter119</text>
<line x1="288.40" y1="515.00" x2="288.40" y2="627.10" stroke="#2a2a2a" stroke-width="1.3" />
<line x1="287.80" y1="626.50" x2="453.00" y2="626.50" stroke="#2a2a2a" stroke-width="1.3" />
<line x1="285.40" y1="626.50" x2="288.40" y2="626.50" stroke="#2a2a2a" stroke-width="1.0" />
<text x="282.0" y="629.5" font-size="8.2" text-anchor="end" textLength="10.0" lengthAdjust="spacingAndGlyphs">0.0</text>
<line x1="285.40" y1="599.40" x2="288.40" y2="599.40" stroke="#2a2a2a" stroke-width="1.0" />
<text x="282.0" y="602.4" font-size="8.2" text-anchor="end" textLength="10.0" lengthAdjust="spacingAndGlyphs">0.5</text>
<line x1="285.40" y1="572.30" x2="288.40" y2="572.30" stroke="#2a2a2a" stroke-width="1.0" />
<text x="282.0" y="575.3" font-size="8.2" text-anchor="end" textLength="10.0" lengthAdjust="spacingAndGlyphs">1.0</text>
<line x1="285.40" y1="545.20" x2="288.40" y2="545.20" stroke="#2a2a2a" stroke-width="1.0" />
<text x="282.0" y="548.2" font-size="8.2" text-anchor="end" textLength="10.0" lengthAdjust="spacingAndGlyphs">1.5</text>
<line x1="285.40" y1="518.10" x2="288.40" y2="518.10" stroke="#2a2a2a" stroke-width="1.0" />
<text x="282.0" y="521.1" font-size="8.2" text-anchor="end" textLength="10.0" lengthAdjust="spacingAndGlyphs">2.0</text>
<text transform="translate(254.6,571.2) rotate(-90)" font-size="8.2" text-anchor="middle" fill="#222" textLength="39.3" lengthAdjust="spacingAndGlyphs">Annexin-V<tspan font-size="5.4" dy="-3">+</tspan></text>
<text transform="translate(265.6,570.8) rotate(-90)" font-size="8.2" text-anchor="middle" fill="#222" textLength="64.5" lengthAdjust="spacingAndGlyphs">(normalized to WT)</text>
<rect x="290.40" y="572.60" width="2.50" height="53.90" fill="#DC8A1C" />
<line x1="295.40" y1="582.60" x2="295.40" y2="580.00" stroke="#555" stroke-width="1.2" />
<rect x="293.90" y="582.30" width="3.00" height="44.20" fill="url(#hOR)" />
<line x1="299.35" y1="594.90" x2="299.35" y2="592.30" stroke="#555" stroke-width="1.2" />
<rect x="298.10" y="594.60" width="2.50" height="31.90" fill="#A5002C" />
<line x1="303.10" y1="584.90" x2="303.10" y2="578.50" stroke="#555" stroke-width="1.2" />
<rect x="301.60" y="584.60" width="3.00" height="41.90" fill="url(#hRD)" />
<line x1="307.05" y1="594.90" x2="307.05" y2="592.30" stroke="#555" stroke-width="1.2" />
<rect x="305.80" y="594.60" width="2.50" height="31.90" fill="#C4C2C9" />
<line x1="310.80" y1="595.70" x2="310.80" y2="593.00" stroke="#555" stroke-width="1.2" />
<rect x="309.30" y="595.40" width="3.00" height="31.10" fill="url(#hGY)" />
<line x1="314.45" y1="605.70" x2="314.45" y2="604.00" stroke="#555" stroke-width="1.2" />
<rect x="313.20" y="605.40" width="2.50" height="21.10" fill="#23407F" />
<line x1="318.10" y1="591.10" x2="318.10" y2="586.20" stroke="#555" stroke-width="1.2" />
<rect x="316.60" y="590.80" width="3.00" height="35.70" fill="url(#hBL)" />
<line x1="304.60" y1="626.50" x2="304.60" y2="629.50" stroke="#2a2a2a" stroke-width="1.0" />
<text x="304.59999999999997" y="640.0" font-size="8.2" text-anchor="middle" textLength="9.0" lengthAdjust="spacingAndGlyphs">S0</text>
<rect x="323.00" y="572.60" width="2.50" height="53.90" fill="#DC8A1C" />
<line x1="328.00" y1="560.30" x2="328.00" y2="557.70" stroke="#555" stroke-width="1.2" />
<rect x="326.50" y="560.00" width="3.00" height="66.50" fill="url(#hOR)" />
<line x1="331.95" y1="583.40" x2="331.95" y2="581.50" stroke="#555" stroke-width="1.2" />
<rect x="330.70" y="583.10" width="2.50" height="43.40" fill="#A5002C" />
<line x1="335.70" y1="540.80" x2="335.70" y2="536.90" stroke="#555" stroke-width="1.2" />
<rect x="334.20" y="540.50" width="3.00" height="86.00" fill="url(#hRD)" />
<line x1="339.65" y1="588.80" x2="339.65" y2="586.50" stroke="#555" stroke-width="1.2" />
<rect x="338.40" y="588.50" width="2.50" height="38.00" fill="#C4C2C9" />
<line x1="343.40" y1="597.30" x2="343.40" y2="592.80" stroke="#555" stroke-width="1.2" />
<rect x="341.90" y="597.00" width="3.00" height="29.50" fill="url(#hGY)" />
<line x1="347.05" y1="606.60" x2="347.05" y2="605.00" stroke="#555" stroke-width="1.2" />
<rect x="345.80" y="606.30" width="2.50" height="20.20" fill="#23407F" />
<line x1="350.70" y1="597.30" x2="350.70" y2="591.90" stroke="#555" stroke-width="1.2" />
<rect x="349.20" y="597.00" width="3.00" height="29.50" fill="url(#hBL)" />
<line x1="337.20" y1="626.50" x2="337.20" y2="629.50" stroke="#2a2a2a" stroke-width="1.0" />
<text x="337.2" y="640.0" font-size="8.2" text-anchor="middle" textLength="9.0" lengthAdjust="spacingAndGlyphs">S1</text>
<rect x="355.60" y="572.80" width="2.50" height="53.70" fill="#DC8A1C" />
<line x1="360.60" y1="574.80" x2="360.60" y2="572.50" stroke="#555" stroke-width="1.2" />
<rect x="359.10" y="574.50" width="3.00" height="52.00" fill="url(#hOR)" />
<line x1="364.55" y1="589.30" x2="364.55" y2="586.00" stroke="#555" stroke-width="1.2" />
<rect x="363.30" y="589.00" width="2.50" height="37.50" fill="#A5002C" />
<line x1="368.30" y1="555.50" x2="368.30" y2="550.10" stroke="#555" stroke-width="1.2" />
<rect x="366.80" y="555.20" width="3.00" height="71.30" fill="url(#hRD)" />
<line x1="372.25" y1="592.70" x2="372.25" y2="591.50" stroke="#555" stroke-width="1.2" />
<rect x="371.00" y="592.40" width="2.50" height="34.10" fill="#C4C2C9" />
<line x1="376.00" y1="599.00" x2="376.00" y2="595.30" stroke="#555" stroke-width="1.2" />
<rect x="374.50" y="598.70" width="3.00" height="27.80" fill="url(#hGY)" />
<line x1="379.65" y1="612.50" x2="379.65" y2="611.00" stroke="#555" stroke-width="1.2" />
<rect x="378.40" y="612.20" width="2.50" height="14.30" fill="#23407F" />
<line x1="383.30" y1="604.10" x2="383.30" y2="600.40" stroke="#555" stroke-width="1.2" />
<rect x="381.80" y="603.80" width="3.00" height="22.70" fill="url(#hBL)" />
<line x1="369.80" y1="626.50" x2="369.80" y2="629.50" stroke="#2a2a2a" stroke-width="1.0" />
<text x="369.79999999999995" y="640.0" font-size="8.2" text-anchor="middle" textLength="9.0" lengthAdjust="spacingAndGlyphs">S2</text>
<rect x="388.20" y="572.50" width="2.50" height="54.00" fill="#DC8A1C" />
<line x1="393.20" y1="591.30" x2="393.20" y2="587.50" stroke="#555" stroke-width="1.2" />
<rect x="391.70" y="591.00" width="3.00" height="35.50" fill="url(#hOR)" />
<line x1="397.15" y1="599.30" x2="397.15" y2="591.00" stroke="#555" stroke-width="1.2" />
<rect x="395.90" y="599.00" width="2.50" height="27.50" fill="#A5002C" />
<line x1="400.90" y1="585.20" x2="400.90" y2="578.10" stroke="#555" stroke-width="1.2" />
<rect x="399.40" y="584.90" width="3.00" height="41.60" fill="url(#hRD)" />
<line x1="404.85" y1="603.80" x2="404.85" y2="601.70" stroke="#555" stroke-width="1.2" />
<rect x="403.60" y="603.50" width="2.50" height="23.00" fill="#C4C2C9" />
<line x1="408.60" y1="594.00" x2="408.60" y2="589.30" stroke="#555" stroke-width="1.2" />
<rect x="407.10" y="593.70" width="3.00" height="32.80" fill="url(#hGY)" />
<line x1="412.25" y1="602.50" x2="412.25" y2="600.30" stroke="#555" stroke-width="1.2" />
<rect x="411.00" y="602.20" width="2.50" height="24.30" fill="#23407F" />
<line x1="415.90" y1="594.00" x2="415.90" y2="587.00" stroke="#555" stroke-width="1.2" />
<rect x="414.40" y="593.70" width="3.00" height="32.80" fill="url(#hBL)" />
<line x1="402.40" y1="626.50" x2="402.40" y2="629.50" stroke="#2a2a2a" stroke-width="1.0" />
<text x="402.4" y="640.0" font-size="8.2" text-anchor="middle" textLength="9.0" lengthAdjust="spacingAndGlyphs">S3</text>
<rect x="420.80" y="572.50" width="2.50" height="54.00" fill="#DC8A1C" />
<line x1="425.80" y1="593.10" x2="425.80" y2="591.00" stroke="#555" stroke-width="1.2" />
<rect x="424.30" y="592.80" width="3.00" height="33.70" fill="url(#hOR)" />
<line x1="429.75" y1="605.50" x2="429.75" y2="601.20" stroke="#555" stroke-width="1.2" />
<rect x="428.50" y="605.20" width="2.50" height="21.30" fill="#A5002C" />
<line x1="433.50" y1="590.50" x2="433.50" y2="585.80" stroke="#555" stroke-width="1.2" />
<rect x="432.00" y="590.20" width="3.00" height="36.30" fill="url(#hRD)" />
<line x1="437.45" y1="606.40" x2="437.45" y2="605.60" stroke="#555" stroke-width="1.2" />
<rect x="436.20" y="606.10" width="2.50" height="20.40" fill="#C4C2C9" />
<line x1="441.20" y1="590.50" x2="441.20" y2="586.30" stroke="#555" stroke-width="1.2" />
<rect x="439.70" y="590.20" width="3.00" height="36.30" fill="url(#hGY)" />
<line x1="444.85" y1="599.30" x2="444.85" y2="597.00" stroke="#555" stroke-width="1.2" />
<rect x="443.60" y="599.00" width="2.50" height="27.50" fill="#23407F" />
<line x1="448.50" y1="589.20" x2="448.50" y2="582.40" stroke="#555" stroke-width="1.2" />
<rect x="447.00" y="588.90" width="3.00" height="37.60" fill="url(#hBL)" />
<line x1="435.00" y1="626.50" x2="435.00" y2="629.50" stroke="#2a2a2a" stroke-width="1.0" />
<text x="434.99999999999994" y="640.0" font-size="8.2" text-anchor="middle" textLength="9.0" lengthAdjust="spacingAndGlyphs">S4</text>
<line x1="291.20" y1="545.00" x2="320.70" y2="545.00" stroke="#3a3a3a" stroke-width="1.2" />
<path d="M304.50,539.95 L304.50,542.65 M303.33,540.62 L305.67,541.97 M305.67,540.62 L303.33,541.97 " stroke="#333" stroke-width="0.85" fill="none"/>
<path d="M308.00,539.95 L308.00,542.65 M306.83,540.62 L309.17,541.97 M309.17,540.62 L306.83,541.97 " stroke="#333" stroke-width="0.85" fill="none"/>
<line x1="323.90" y1="525.40" x2="353.40" y2="525.40" stroke="#3a3a3a" stroke-width="1.2" />
<path d="M333.70,520.35 L333.70,523.05 M332.53,521.02 L334.87,522.37 M334.87,521.02 L332.53,522.37 " stroke="#333" stroke-width="0.85" fill="none"/>
<path d="M337.20,520.35 L337.20,523.05 M336.03,521.02 L338.37,522.37 M338.37,521.02 L336.03,522.37 " stroke="#333" stroke-width="0.85" fill="none"/>
<path d="M340.70,520.35 L340.70,523.05 M339.53,521.02 L341.87,522.37 M341.87,521.02 L339.53,522.37 " stroke="#333" stroke-width="0.85" fill="none"/>
<path d="M344.20,520.35 L344.20,523.05 M343.03,521.02 L345.37,522.37 M345.37,521.02 L343.03,522.37 " stroke="#333" stroke-width="0.85" fill="none"/>
<line x1="354.50" y1="545.40" x2="384.10" y2="545.40" stroke="#3a3a3a" stroke-width="1.2" />
<path d="M364.35,540.35 L364.35,543.05 M363.18,541.02 L365.52,542.37 M365.52,541.02 L363.18,542.37 " stroke="#333" stroke-width="0.85" fill="none"/>
<path d="M367.85,540.35 L367.85,543.05 M366.68,541.02 L369.02,542.37 M369.02,541.02 L366.68,542.37 " stroke="#333" stroke-width="0.85" fill="none"/>
<path d="M371.35,540.35 L371.35,543.05 M370.18,541.02 L372.52,542.37 M372.52,541.02 L370.18,542.37 " stroke="#333" stroke-width="0.85" fill="none"/>
<path d="M374.85,540.35 L374.85,543.05 M373.68,541.02 L376.02,542.37 M376.02,541.02 L373.68,542.37 " stroke="#333" stroke-width="0.85" fill="none"/>
<line x1="388.20" y1="545.60" x2="417.70" y2="545.60" stroke="#3a3a3a" stroke-width="1.2" />
<path d="M399.75,540.55 L399.75,543.25 M398.58,541.23 L400.92,542.57 M400.92,541.23 L398.58,542.57 " stroke="#333" stroke-width="0.85" fill="none"/>
<path d="M403.25,540.55 L403.25,543.25 M402.08,541.23 L404.42,542.57 M404.42,541.23 L402.08,542.57 " stroke="#333" stroke-width="0.85" fill="none"/>
<path d="M406.75,540.55 L406.75,543.25 M405.58,541.23 L407.92,542.57 M407.92,541.23 L405.58,542.57 " stroke="#333" stroke-width="0.85" fill="none"/>
<line x1="421.60" y1="545.60" x2="451.00" y2="545.60" stroke="#3a3a3a" stroke-width="1.2" />
<path d="M436.60,540.55 L436.60,543.25 M435.43,541.23 L437.77,542.57 M437.77,541.23 L435.43,542.57 " stroke="#333" stroke-width="0.85" fill="none"/>
<rect x="461.90" y="516.30" width="12.60" height="4.90" fill="#DC8A1C" />
<text x="477.8" y="521.5999999999999" font-size="7.8" textLength="9.4" lengthAdjust="spacingAndGlyphs">WT</text>
<rect x="461.90" y="524.62" width="12.60" height="4.90" fill="url(#hOR)" />
<text x="477.8" y="529.92" font-size="7.8" textLength="29.5" lengthAdjust="spacingAndGlyphs">WT+Tam</text>
<rect x="461.90" y="532.94" width="12.60" height="4.90" fill="#A5002C" />
<text x="477.8" y="538.2399999999999" font-size="7.8" textLength="12.5" lengthAdjust="spacingAndGlyphs">F/F</text>
<rect x="461.90" y="541.26" width="12.60" height="4.90" fill="url(#hRD)" />
<text x="477.8" y="546.56" font-size="7.8" textLength="34.5" lengthAdjust="spacingAndGlyphs">F/F + Tam</text>
<rect x="461.90" y="549.58" width="12.60" height="4.90" fill="#C4C2C9" />
<text x="477.8" y="554.8799999999999" font-size="7.8" textLength="16.2" lengthAdjust="spacingAndGlyphs">DKO</text>
<rect x="461.90" y="557.90" width="12.60" height="4.90" fill="url(#hGY)" />
<text x="477.8" y="563.1999999999999" font-size="7.8" textLength="35.5" lengthAdjust="spacingAndGlyphs">DKO+Tam</text>
<rect x="461.90" y="566.22" width="12.60" height="4.90" fill="#23407F" />
<text x="477.8" y="571.5199999999999" font-size="7.8" textLength="15.5" lengthAdjust="spacingAndGlyphs">TKO</text>
<rect x="461.90" y="574.54" width="12.60" height="4.90" fill="url(#hBL)" />
<text x="477.8" y="579.8399999999999" font-size="7.8" textLength="34.8" lengthAdjust="spacingAndGlyphs">TKO+Tam</text>
<rect x="0.6" y="0.6" width="518.8" height="648.8" fill="none" stroke="#000" stroke-width="1.3"/>
</svg>
</body></html>
